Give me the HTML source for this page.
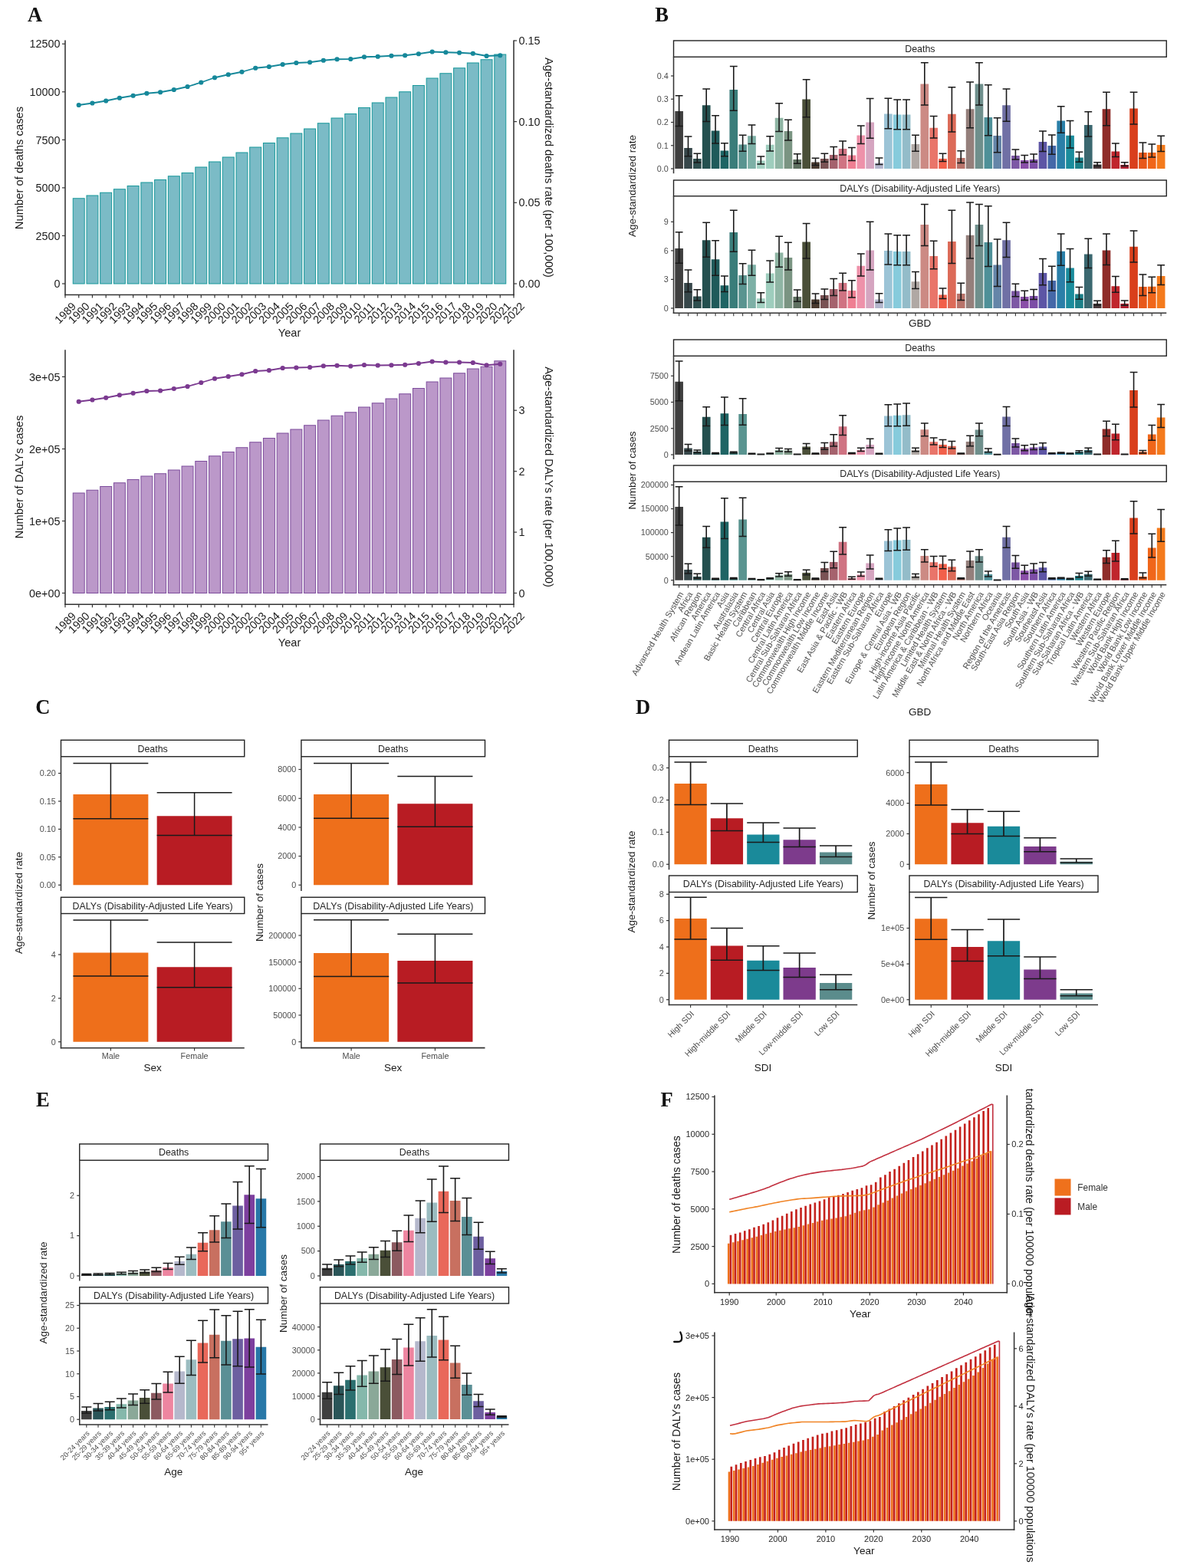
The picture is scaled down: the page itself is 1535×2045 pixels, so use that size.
<!DOCTYPE html>
<html lang="en"><head><meta charset="utf-8"><title>Figure</title>
<style>
html,body{margin:0;padding:0;background:#fff;width:1535px;height:2045px;overflow:hidden;}
svg{display:block;font-family:"Liberation Sans",sans-serif;}
</style></head><body>
<svg width="1535" height="2045" viewBox="0 0 1535 2045">
<rect width="1535" height="2045" fill="#ffffff"/>
<rect x="95.25" y="258.75" width="14.95" height="111.25" fill="#7bbbc6" stroke="#17989a" stroke-width="1"/>
<rect x="112.98" y="255" width="14.95" height="115" fill="#7bbbc6" stroke="#17989a" stroke-width="1"/>
<rect x="130.7" y="251.25" width="14.95" height="118.75" fill="#7bbbc6" stroke="#17989a" stroke-width="1"/>
<rect x="148.43" y="246.75" width="14.95" height="123.25" fill="#7bbbc6" stroke="#17989a" stroke-width="1"/>
<rect x="166.16" y="242.5" width="14.95" height="127.5" fill="#7bbbc6" stroke="#17989a" stroke-width="1"/>
<rect x="183.89" y="238" width="14.95" height="132" fill="#7bbbc6" stroke="#17989a" stroke-width="1"/>
<rect x="201.61" y="234.5" width="14.95" height="135.5" fill="#7bbbc6" stroke="#17989a" stroke-width="1"/>
<rect x="219.34" y="229.75" width="14.95" height="140.25" fill="#7bbbc6" stroke="#17989a" stroke-width="1"/>
<rect x="237.07" y="225.5" width="14.95" height="144.5" fill="#7bbbc6" stroke="#17989a" stroke-width="1"/>
<rect x="254.8" y="218" width="14.95" height="152" fill="#7bbbc6" stroke="#17989a" stroke-width="1"/>
<rect x="272.52" y="211" width="14.95" height="159" fill="#7bbbc6" stroke="#17989a" stroke-width="1"/>
<rect x="290.25" y="205" width="14.95" height="165" fill="#7bbbc6" stroke="#17989a" stroke-width="1"/>
<rect x="307.98" y="199" width="14.95" height="171" fill="#7bbbc6" stroke="#17989a" stroke-width="1"/>
<rect x="325.7" y="192" width="14.95" height="178" fill="#7bbbc6" stroke="#17989a" stroke-width="1"/>
<rect x="343.43" y="186.5" width="14.95" height="183.5" fill="#7bbbc6" stroke="#17989a" stroke-width="1"/>
<rect x="361.16" y="179.75" width="14.95" height="190.25" fill="#7bbbc6" stroke="#17989a" stroke-width="1"/>
<rect x="378.89" y="174" width="14.95" height="196" fill="#7bbbc6" stroke="#17989a" stroke-width="1"/>
<rect x="396.61" y="168" width="14.95" height="202" fill="#7bbbc6" stroke="#17989a" stroke-width="1"/>
<rect x="414.34" y="160.75" width="14.95" height="209.25" fill="#7bbbc6" stroke="#17989a" stroke-width="1"/>
<rect x="432.07" y="154" width="14.95" height="216" fill="#7bbbc6" stroke="#17989a" stroke-width="1"/>
<rect x="449.8" y="148.5" width="14.95" height="221.5" fill="#7bbbc6" stroke="#17989a" stroke-width="1"/>
<rect x="467.52" y="140.5" width="14.95" height="229.5" fill="#7bbbc6" stroke="#17989a" stroke-width="1"/>
<rect x="485.25" y="134" width="14.95" height="236" fill="#7bbbc6" stroke="#17989a" stroke-width="1"/>
<rect x="502.98" y="127" width="14.95" height="243" fill="#7bbbc6" stroke="#17989a" stroke-width="1"/>
<rect x="520.7" y="119.75" width="14.95" height="250.25" fill="#7bbbc6" stroke="#17989a" stroke-width="1"/>
<rect x="538.43" y="111.5" width="14.95" height="258.5" fill="#7bbbc6" stroke="#17989a" stroke-width="1"/>
<rect x="556.16" y="102" width="14.95" height="268" fill="#7bbbc6" stroke="#17989a" stroke-width="1"/>
<rect x="573.89" y="95.75" width="14.95" height="274.25" fill="#7bbbc6" stroke="#17989a" stroke-width="1"/>
<rect x="591.61" y="88.75" width="14.95" height="281.25" fill="#7bbbc6" stroke="#17989a" stroke-width="1"/>
<rect x="609.34" y="82" width="14.95" height="288" fill="#7bbbc6" stroke="#17989a" stroke-width="1"/>
<rect x="627.07" y="77.75" width="14.95" height="292.25" fill="#7bbbc6" stroke="#17989a" stroke-width="1"/>
<rect x="644.8" y="71" width="14.95" height="299" fill="#7bbbc6" stroke="#17989a" stroke-width="1"/>
<polyline points="102.73,137 120.45,134.5 138.18,131.5 155.91,127.75 173.64,124.75 191.36,121.75 209.09,120.25 226.82,117 244.55,113 262.27,107.5 280,101.25 297.73,97.25 315.45,93.75 333.18,88.75 350.91,87 368.64,84 386.36,82 404.09,81.25 421.82,78.75 439.55,77.25 457.27,77 475,74.25 492.73,73.75 510.45,72.75 528.18,72.25 545.91,70.25 563.64,67.5 581.36,68.25 599.09,68.75 616.82,69.75 634.55,73 652.27,72.25" fill="none" stroke="#16889a" stroke-width="1.8" stroke-linejoin="round"/>
<circle cx="102.73" cy="137" r="3.1" fill="#16889a"/>
<circle cx="120.45" cy="134.5" r="3.1" fill="#16889a"/>
<circle cx="138.18" cy="131.5" r="3.1" fill="#16889a"/>
<circle cx="155.91" cy="127.75" r="3.1" fill="#16889a"/>
<circle cx="173.64" cy="124.75" r="3.1" fill="#16889a"/>
<circle cx="191.36" cy="121.75" r="3.1" fill="#16889a"/>
<circle cx="209.09" cy="120.25" r="3.1" fill="#16889a"/>
<circle cx="226.82" cy="117" r="3.1" fill="#16889a"/>
<circle cx="244.55" cy="113" r="3.1" fill="#16889a"/>
<circle cx="262.27" cy="107.5" r="3.1" fill="#16889a"/>
<circle cx="280" cy="101.25" r="3.1" fill="#16889a"/>
<circle cx="297.73" cy="97.25" r="3.1" fill="#16889a"/>
<circle cx="315.45" cy="93.75" r="3.1" fill="#16889a"/>
<circle cx="333.18" cy="88.75" r="3.1" fill="#16889a"/>
<circle cx="350.91" cy="87" r="3.1" fill="#16889a"/>
<circle cx="368.64" cy="84" r="3.1" fill="#16889a"/>
<circle cx="386.36" cy="82" r="3.1" fill="#16889a"/>
<circle cx="404.09" cy="81.25" r="3.1" fill="#16889a"/>
<circle cx="421.82" cy="78.75" r="3.1" fill="#16889a"/>
<circle cx="439.55" cy="77.25" r="3.1" fill="#16889a"/>
<circle cx="457.27" cy="77" r="3.1" fill="#16889a"/>
<circle cx="475" cy="74.25" r="3.1" fill="#16889a"/>
<circle cx="492.73" cy="73.75" r="3.1" fill="#16889a"/>
<circle cx="510.45" cy="72.75" r="3.1" fill="#16889a"/>
<circle cx="528.18" cy="72.25" r="3.1" fill="#16889a"/>
<circle cx="545.91" cy="70.25" r="3.1" fill="#16889a"/>
<circle cx="563.64" cy="67.5" r="3.1" fill="#16889a"/>
<circle cx="581.36" cy="68.25" r="3.1" fill="#16889a"/>
<circle cx="599.09" cy="68.75" r="3.1" fill="#16889a"/>
<circle cx="616.82" cy="69.75" r="3.1" fill="#16889a"/>
<circle cx="634.55" cy="73" r="3.1" fill="#16889a"/>
<circle cx="652.27" cy="72.25" r="3.1" fill="#16889a"/>
<line x1="85" y1="52.5" x2="85" y2="385.2" stroke="#333333" stroke-width="1.55"/>
<line x1="84.3" y1="384.5" x2="670.7" y2="384.5" stroke="#333333" stroke-width="1.55"/>
<line x1="670" y1="52.5" x2="670" y2="385.2" stroke="#333333" stroke-width="1.55"/>
<line x1="81" y1="370" x2="85" y2="370" stroke="#333333" stroke-width="1.2"/>
<text x="78.5" y="375.16" text-anchor="end" font-size="14.4" fill="#1a1a1a">0</text>
<line x1="81" y1="307.45" x2="85" y2="307.45" stroke="#333333" stroke-width="1.2"/>
<text x="78.5" y="312.61" text-anchor="end" font-size="14.4" fill="#1a1a1a">2500</text>
<line x1="81" y1="244.9" x2="85" y2="244.9" stroke="#333333" stroke-width="1.2"/>
<text x="78.5" y="250.06" text-anchor="end" font-size="14.4" fill="#1a1a1a">5000</text>
<line x1="81" y1="182.35" x2="85" y2="182.35" stroke="#333333" stroke-width="1.2"/>
<text x="78.5" y="187.51" text-anchor="end" font-size="14.4" fill="#1a1a1a">7500</text>
<line x1="81" y1="119.8" x2="85" y2="119.8" stroke="#333333" stroke-width="1.2"/>
<text x="78.5" y="124.96" text-anchor="end" font-size="14.4" fill="#1a1a1a">10000</text>
<line x1="81" y1="57.25" x2="85" y2="57.25" stroke="#333333" stroke-width="1.2"/>
<text x="78.5" y="62.41" text-anchor="end" font-size="14.4" fill="#1a1a1a">12500</text>
<line x1="670" y1="370" x2="674" y2="370" stroke="#333333" stroke-width="1.2"/>
<text x="676.5" y="375.16" font-size="14.4" fill="#1a1a1a">0.00</text>
<line x1="670" y1="264.3" x2="674" y2="264.3" stroke="#333333" stroke-width="1.2"/>
<text x="676.5" y="269.46" font-size="14.4" fill="#1a1a1a">0.05</text>
<line x1="670" y1="158.6" x2="674" y2="158.6" stroke="#333333" stroke-width="1.2"/>
<text x="676.5" y="163.76" font-size="14.4" fill="#1a1a1a">0.10</text>
<line x1="670" y1="53" x2="674" y2="53" stroke="#333333" stroke-width="1.2"/>
<text x="676.5" y="58.16" font-size="14.4" fill="#1a1a1a">0.15</text>
<line x1="85" y1="384.5" x2="85" y2="388.5" stroke="#333333" stroke-width="1.2"/>
<text transform="translate(85 408) rotate(-45)" y="5.16" text-anchor="middle" font-size="14.4" fill="#1a1a1a">1989</text>
<line x1="102.73" y1="384.5" x2="102.73" y2="388.5" stroke="#333333" stroke-width="1.2"/>
<text transform="translate(102.73 408) rotate(-45)" y="5.16" text-anchor="middle" font-size="14.4" fill="#1a1a1a">1990</text>
<line x1="120.45" y1="384.5" x2="120.45" y2="388.5" stroke="#333333" stroke-width="1.2"/>
<text transform="translate(120.45 408) rotate(-45)" y="5.16" text-anchor="middle" font-size="14.4" fill="#1a1a1a">1991</text>
<line x1="138.18" y1="384.5" x2="138.18" y2="388.5" stroke="#333333" stroke-width="1.2"/>
<text transform="translate(138.18 408) rotate(-45)" y="5.16" text-anchor="middle" font-size="14.4" fill="#1a1a1a">1992</text>
<line x1="155.91" y1="384.5" x2="155.91" y2="388.5" stroke="#333333" stroke-width="1.2"/>
<text transform="translate(155.91 408) rotate(-45)" y="5.16" text-anchor="middle" font-size="14.4" fill="#1a1a1a">1993</text>
<line x1="173.64" y1="384.5" x2="173.64" y2="388.5" stroke="#333333" stroke-width="1.2"/>
<text transform="translate(173.64 408) rotate(-45)" y="5.16" text-anchor="middle" font-size="14.4" fill="#1a1a1a">1994</text>
<line x1="191.36" y1="384.5" x2="191.36" y2="388.5" stroke="#333333" stroke-width="1.2"/>
<text transform="translate(191.36 408) rotate(-45)" y="5.16" text-anchor="middle" font-size="14.4" fill="#1a1a1a">1995</text>
<line x1="209.09" y1="384.5" x2="209.09" y2="388.5" stroke="#333333" stroke-width="1.2"/>
<text transform="translate(209.09 408) rotate(-45)" y="5.16" text-anchor="middle" font-size="14.4" fill="#1a1a1a">1996</text>
<line x1="226.82" y1="384.5" x2="226.82" y2="388.5" stroke="#333333" stroke-width="1.2"/>
<text transform="translate(226.82 408) rotate(-45)" y="5.16" text-anchor="middle" font-size="14.4" fill="#1a1a1a">1997</text>
<line x1="244.55" y1="384.5" x2="244.55" y2="388.5" stroke="#333333" stroke-width="1.2"/>
<text transform="translate(244.55 408) rotate(-45)" y="5.16" text-anchor="middle" font-size="14.4" fill="#1a1a1a">1998</text>
<line x1="262.27" y1="384.5" x2="262.27" y2="388.5" stroke="#333333" stroke-width="1.2"/>
<text transform="translate(262.27 408) rotate(-45)" y="5.16" text-anchor="middle" font-size="14.4" fill="#1a1a1a">1999</text>
<line x1="280" y1="384.5" x2="280" y2="388.5" stroke="#333333" stroke-width="1.2"/>
<text transform="translate(280 408) rotate(-45)" y="5.16" text-anchor="middle" font-size="14.4" fill="#1a1a1a">2000</text>
<line x1="297.73" y1="384.5" x2="297.73" y2="388.5" stroke="#333333" stroke-width="1.2"/>
<text transform="translate(297.73 408) rotate(-45)" y="5.16" text-anchor="middle" font-size="14.4" fill="#1a1a1a">2001</text>
<line x1="315.45" y1="384.5" x2="315.45" y2="388.5" stroke="#333333" stroke-width="1.2"/>
<text transform="translate(315.45 408) rotate(-45)" y="5.16" text-anchor="middle" font-size="14.4" fill="#1a1a1a">2002</text>
<line x1="333.18" y1="384.5" x2="333.18" y2="388.5" stroke="#333333" stroke-width="1.2"/>
<text transform="translate(333.18 408) rotate(-45)" y="5.16" text-anchor="middle" font-size="14.4" fill="#1a1a1a">2003</text>
<line x1="350.91" y1="384.5" x2="350.91" y2="388.5" stroke="#333333" stroke-width="1.2"/>
<text transform="translate(350.91 408) rotate(-45)" y="5.16" text-anchor="middle" font-size="14.4" fill="#1a1a1a">2004</text>
<line x1="368.64" y1="384.5" x2="368.64" y2="388.5" stroke="#333333" stroke-width="1.2"/>
<text transform="translate(368.64 408) rotate(-45)" y="5.16" text-anchor="middle" font-size="14.4" fill="#1a1a1a">2005</text>
<line x1="386.36" y1="384.5" x2="386.36" y2="388.5" stroke="#333333" stroke-width="1.2"/>
<text transform="translate(386.36 408) rotate(-45)" y="5.16" text-anchor="middle" font-size="14.4" fill="#1a1a1a">2006</text>
<line x1="404.09" y1="384.5" x2="404.09" y2="388.5" stroke="#333333" stroke-width="1.2"/>
<text transform="translate(404.09 408) rotate(-45)" y="5.16" text-anchor="middle" font-size="14.4" fill="#1a1a1a">2007</text>
<line x1="421.82" y1="384.5" x2="421.82" y2="388.5" stroke="#333333" stroke-width="1.2"/>
<text transform="translate(421.82 408) rotate(-45)" y="5.16" text-anchor="middle" font-size="14.4" fill="#1a1a1a">2008</text>
<line x1="439.55" y1="384.5" x2="439.55" y2="388.5" stroke="#333333" stroke-width="1.2"/>
<text transform="translate(439.55 408) rotate(-45)" y="5.16" text-anchor="middle" font-size="14.4" fill="#1a1a1a">2009</text>
<line x1="457.27" y1="384.5" x2="457.27" y2="388.5" stroke="#333333" stroke-width="1.2"/>
<text transform="translate(457.27 408) rotate(-45)" y="5.16" text-anchor="middle" font-size="14.4" fill="#1a1a1a">2010</text>
<line x1="475" y1="384.5" x2="475" y2="388.5" stroke="#333333" stroke-width="1.2"/>
<text transform="translate(475 408) rotate(-45)" y="5.16" text-anchor="middle" font-size="14.4" fill="#1a1a1a">2011</text>
<line x1="492.73" y1="384.5" x2="492.73" y2="388.5" stroke="#333333" stroke-width="1.2"/>
<text transform="translate(492.73 408) rotate(-45)" y="5.16" text-anchor="middle" font-size="14.4" fill="#1a1a1a">2012</text>
<line x1="510.45" y1="384.5" x2="510.45" y2="388.5" stroke="#333333" stroke-width="1.2"/>
<text transform="translate(510.45 408) rotate(-45)" y="5.16" text-anchor="middle" font-size="14.4" fill="#1a1a1a">2013</text>
<line x1="528.18" y1="384.5" x2="528.18" y2="388.5" stroke="#333333" stroke-width="1.2"/>
<text transform="translate(528.18 408) rotate(-45)" y="5.16" text-anchor="middle" font-size="14.4" fill="#1a1a1a">2014</text>
<line x1="545.91" y1="384.5" x2="545.91" y2="388.5" stroke="#333333" stroke-width="1.2"/>
<text transform="translate(545.91 408) rotate(-45)" y="5.16" text-anchor="middle" font-size="14.4" fill="#1a1a1a">2015</text>
<line x1="563.64" y1="384.5" x2="563.64" y2="388.5" stroke="#333333" stroke-width="1.2"/>
<text transform="translate(563.64 408) rotate(-45)" y="5.16" text-anchor="middle" font-size="14.4" fill="#1a1a1a">2016</text>
<line x1="581.36" y1="384.5" x2="581.36" y2="388.5" stroke="#333333" stroke-width="1.2"/>
<text transform="translate(581.36 408) rotate(-45)" y="5.16" text-anchor="middle" font-size="14.4" fill="#1a1a1a">2017</text>
<line x1="599.09" y1="384.5" x2="599.09" y2="388.5" stroke="#333333" stroke-width="1.2"/>
<text transform="translate(599.09 408) rotate(-45)" y="5.16" text-anchor="middle" font-size="14.4" fill="#1a1a1a">2018</text>
<line x1="616.82" y1="384.5" x2="616.82" y2="388.5" stroke="#333333" stroke-width="1.2"/>
<text transform="translate(616.82 408) rotate(-45)" y="5.16" text-anchor="middle" font-size="14.4" fill="#1a1a1a">2019</text>
<line x1="634.55" y1="384.5" x2="634.55" y2="388.5" stroke="#333333" stroke-width="1.2"/>
<text transform="translate(634.55 408) rotate(-45)" y="5.16" text-anchor="middle" font-size="14.4" fill="#1a1a1a">2020</text>
<line x1="652.27" y1="384.5" x2="652.27" y2="388.5" stroke="#333333" stroke-width="1.2"/>
<text transform="translate(652.27 408) rotate(-45)" y="5.16" text-anchor="middle" font-size="14.4" fill="#1a1a1a">2021</text>
<line x1="670" y1="384.5" x2="670" y2="388.5" stroke="#333333" stroke-width="1.2"/>
<text transform="translate(670 408) rotate(-45)" y="5.16" text-anchor="middle" font-size="14.4" fill="#1a1a1a">2022</text>
<text x="377.5" y="439.23" text-anchor="middle" font-size="14.6" fill="#1a1a1a">Year</text>
<text transform="translate(24.6 219) rotate(-90)" y="5.3" text-anchor="middle" font-size="14.8" fill="#1a1a1a">Number of deaths cases</text>
<text transform="translate(716.5 218.5) rotate(90)" y="5.3" text-anchor="middle" font-size="14.8" fill="#1a1a1a">Age-standardized deaths rate (per 100,000)</text>
<rect x="95.25" y="643" width="14.95" height="130.5" fill="#bb98c9" stroke="#7d4c9c" stroke-width="1"/>
<rect x="112.98" y="639.25" width="14.95" height="134.25" fill="#bb98c9" stroke="#7d4c9c" stroke-width="1"/>
<rect x="130.7" y="634.5" width="14.95" height="139" fill="#bb98c9" stroke="#7d4c9c" stroke-width="1"/>
<rect x="148.43" y="629.75" width="14.95" height="143.75" fill="#bb98c9" stroke="#7d4c9c" stroke-width="1"/>
<rect x="166.16" y="625.5" width="14.95" height="148" fill="#bb98c9" stroke="#7d4c9c" stroke-width="1"/>
<rect x="183.89" y="621" width="14.95" height="152.5" fill="#bb98c9" stroke="#7d4c9c" stroke-width="1"/>
<rect x="201.61" y="617.75" width="14.95" height="155.75" fill="#bb98c9" stroke="#7d4c9c" stroke-width="1"/>
<rect x="219.34" y="613" width="14.95" height="160.5" fill="#bb98c9" stroke="#7d4c9c" stroke-width="1"/>
<rect x="237.07" y="608" width="14.95" height="165.5" fill="#bb98c9" stroke="#7d4c9c" stroke-width="1"/>
<rect x="254.8" y="601.5" width="14.95" height="172" fill="#bb98c9" stroke="#7d4c9c" stroke-width="1"/>
<rect x="272.52" y="594.75" width="14.95" height="178.75" fill="#bb98c9" stroke="#7d4c9c" stroke-width="1"/>
<rect x="290.25" y="589.5" width="14.95" height="184" fill="#bb98c9" stroke="#7d4c9c" stroke-width="1"/>
<rect x="307.98" y="583.75" width="14.95" height="189.75" fill="#bb98c9" stroke="#7d4c9c" stroke-width="1"/>
<rect x="325.7" y="576.75" width="14.95" height="196.75" fill="#bb98c9" stroke="#7d4c9c" stroke-width="1"/>
<rect x="343.43" y="571.5" width="14.95" height="202" fill="#bb98c9" stroke="#7d4c9c" stroke-width="1"/>
<rect x="361.16" y="565" width="14.95" height="208.5" fill="#bb98c9" stroke="#7d4c9c" stroke-width="1"/>
<rect x="378.89" y="560" width="14.95" height="213.5" fill="#bb98c9" stroke="#7d4c9c" stroke-width="1"/>
<rect x="396.61" y="554.75" width="14.95" height="218.75" fill="#bb98c9" stroke="#7d4c9c" stroke-width="1"/>
<rect x="414.34" y="548" width="14.95" height="225.5" fill="#bb98c9" stroke="#7d4c9c" stroke-width="1"/>
<rect x="432.07" y="542.25" width="14.95" height="231.25" fill="#bb98c9" stroke="#7d4c9c" stroke-width="1"/>
<rect x="449.8" y="537.75" width="14.95" height="235.75" fill="#bb98c9" stroke="#7d4c9c" stroke-width="1"/>
<rect x="467.52" y="531" width="14.95" height="242.5" fill="#bb98c9" stroke="#7d4c9c" stroke-width="1"/>
<rect x="485.25" y="525.75" width="14.95" height="247.75" fill="#bb98c9" stroke="#7d4c9c" stroke-width="1"/>
<rect x="502.98" y="520" width="14.95" height="253.5" fill="#bb98c9" stroke="#7d4c9c" stroke-width="1"/>
<rect x="520.7" y="513.75" width="14.95" height="259.75" fill="#bb98c9" stroke="#7d4c9c" stroke-width="1"/>
<rect x="538.43" y="506.5" width="14.95" height="267" fill="#bb98c9" stroke="#7d4c9c" stroke-width="1"/>
<rect x="556.16" y="498" width="14.95" height="275.5" fill="#bb98c9" stroke="#7d4c9c" stroke-width="1"/>
<rect x="573.89" y="493" width="14.95" height="280.5" fill="#bb98c9" stroke="#7d4c9c" stroke-width="1"/>
<rect x="591.61" y="486.75" width="14.95" height="286.75" fill="#bb98c9" stroke="#7d4c9c" stroke-width="1"/>
<rect x="609.34" y="481" width="14.95" height="292.5" fill="#bb98c9" stroke="#7d4c9c" stroke-width="1"/>
<rect x="627.07" y="478.25" width="14.95" height="295.25" fill="#bb98c9" stroke="#7d4c9c" stroke-width="1"/>
<rect x="644.8" y="470.75" width="14.95" height="302.75" fill="#bb98c9" stroke="#7d4c9c" stroke-width="1"/>
<polyline points="102.73,523.75 120.45,521.5 138.18,518.75 155.91,515.25 173.64,512.75 191.36,510 209.09,509.5 226.82,507 244.55,504 262.27,499 280,493.75 297.73,491 315.45,488.25 333.18,484 350.91,483 368.64,480 386.36,479.5 404.09,479 421.82,477.25 439.55,476.75 457.27,477.5 475,476 492.73,476.5 510.45,476.25 528.18,475.75 545.91,474 563.64,471.5 581.36,472.5 599.09,472.5 616.82,473 634.55,476.25 652.27,474.75" fill="none" stroke="#7b3a90" stroke-width="1.8" stroke-linejoin="round"/>
<circle cx="102.73" cy="523.75" r="3.1" fill="#7b3a90"/>
<circle cx="120.45" cy="521.5" r="3.1" fill="#7b3a90"/>
<circle cx="138.18" cy="518.75" r="3.1" fill="#7b3a90"/>
<circle cx="155.91" cy="515.25" r="3.1" fill="#7b3a90"/>
<circle cx="173.64" cy="512.75" r="3.1" fill="#7b3a90"/>
<circle cx="191.36" cy="510" r="3.1" fill="#7b3a90"/>
<circle cx="209.09" cy="509.5" r="3.1" fill="#7b3a90"/>
<circle cx="226.82" cy="507" r="3.1" fill="#7b3a90"/>
<circle cx="244.55" cy="504" r="3.1" fill="#7b3a90"/>
<circle cx="262.27" cy="499" r="3.1" fill="#7b3a90"/>
<circle cx="280" cy="493.75" r="3.1" fill="#7b3a90"/>
<circle cx="297.73" cy="491" r="3.1" fill="#7b3a90"/>
<circle cx="315.45" cy="488.25" r="3.1" fill="#7b3a90"/>
<circle cx="333.18" cy="484" r="3.1" fill="#7b3a90"/>
<circle cx="350.91" cy="483" r="3.1" fill="#7b3a90"/>
<circle cx="368.64" cy="480" r="3.1" fill="#7b3a90"/>
<circle cx="386.36" cy="479.5" r="3.1" fill="#7b3a90"/>
<circle cx="404.09" cy="479" r="3.1" fill="#7b3a90"/>
<circle cx="421.82" cy="477.25" r="3.1" fill="#7b3a90"/>
<circle cx="439.55" cy="476.75" r="3.1" fill="#7b3a90"/>
<circle cx="457.27" cy="477.5" r="3.1" fill="#7b3a90"/>
<circle cx="475" cy="476" r="3.1" fill="#7b3a90"/>
<circle cx="492.73" cy="476.5" r="3.1" fill="#7b3a90"/>
<circle cx="510.45" cy="476.25" r="3.1" fill="#7b3a90"/>
<circle cx="528.18" cy="475.75" r="3.1" fill="#7b3a90"/>
<circle cx="545.91" cy="474" r="3.1" fill="#7b3a90"/>
<circle cx="563.64" cy="471.5" r="3.1" fill="#7b3a90"/>
<circle cx="581.36" cy="472.5" r="3.1" fill="#7b3a90"/>
<circle cx="599.09" cy="472.5" r="3.1" fill="#7b3a90"/>
<circle cx="616.82" cy="473" r="3.1" fill="#7b3a90"/>
<circle cx="634.55" cy="476.25" r="3.1" fill="#7b3a90"/>
<circle cx="652.27" cy="474.75" r="3.1" fill="#7b3a90"/>
<line x1="85" y1="456.25" x2="85" y2="788.95" stroke="#333333" stroke-width="1.55"/>
<line x1="84.3" y1="788.25" x2="670.7" y2="788.25" stroke="#333333" stroke-width="1.55"/>
<line x1="670" y1="456.25" x2="670" y2="788.95" stroke="#333333" stroke-width="1.55"/>
<line x1="81" y1="773.5" x2="85" y2="773.5" stroke="#333333" stroke-width="1.2"/>
<text x="78.5" y="778.66" text-anchor="end" font-size="14.4" fill="#1a1a1a">0e+00</text>
<line x1="81" y1="679.5" x2="85" y2="679.5" stroke="#333333" stroke-width="1.2"/>
<text x="78.5" y="684.66" text-anchor="end" font-size="14.4" fill="#1a1a1a">1e+05</text>
<line x1="81" y1="585.5" x2="85" y2="585.5" stroke="#333333" stroke-width="1.2"/>
<text x="78.5" y="590.66" text-anchor="end" font-size="14.4" fill="#1a1a1a">2e+05</text>
<line x1="81" y1="491.4" x2="85" y2="491.4" stroke="#333333" stroke-width="1.2"/>
<text x="78.5" y="496.56" text-anchor="end" font-size="14.4" fill="#1a1a1a">3e+05</text>
<line x1="670" y1="773.5" x2="674" y2="773.5" stroke="#333333" stroke-width="1.2"/>
<text x="676.5" y="778.66" font-size="14.4" fill="#1a1a1a">0</text>
<line x1="670" y1="694.1" x2="674" y2="694.1" stroke="#333333" stroke-width="1.2"/>
<text x="676.5" y="699.26" font-size="14.4" fill="#1a1a1a">1</text>
<line x1="670" y1="614.7" x2="674" y2="614.7" stroke="#333333" stroke-width="1.2"/>
<text x="676.5" y="619.86" font-size="14.4" fill="#1a1a1a">2</text>
<line x1="670" y1="535.2" x2="674" y2="535.2" stroke="#333333" stroke-width="1.2"/>
<text x="676.5" y="540.36" font-size="14.4" fill="#1a1a1a">3</text>
<line x1="85" y1="788.25" x2="85" y2="792.25" stroke="#333333" stroke-width="1.2"/>
<text transform="translate(85 812) rotate(-45)" y="5.16" text-anchor="middle" font-size="14.4" fill="#1a1a1a">1989</text>
<line x1="102.73" y1="788.25" x2="102.73" y2="792.25" stroke="#333333" stroke-width="1.2"/>
<text transform="translate(102.73 812) rotate(-45)" y="5.16" text-anchor="middle" font-size="14.4" fill="#1a1a1a">1990</text>
<line x1="120.45" y1="788.25" x2="120.45" y2="792.25" stroke="#333333" stroke-width="1.2"/>
<text transform="translate(120.45 812) rotate(-45)" y="5.16" text-anchor="middle" font-size="14.4" fill="#1a1a1a">1991</text>
<line x1="138.18" y1="788.25" x2="138.18" y2="792.25" stroke="#333333" stroke-width="1.2"/>
<text transform="translate(138.18 812) rotate(-45)" y="5.16" text-anchor="middle" font-size="14.4" fill="#1a1a1a">1992</text>
<line x1="155.91" y1="788.25" x2="155.91" y2="792.25" stroke="#333333" stroke-width="1.2"/>
<text transform="translate(155.91 812) rotate(-45)" y="5.16" text-anchor="middle" font-size="14.4" fill="#1a1a1a">1993</text>
<line x1="173.64" y1="788.25" x2="173.64" y2="792.25" stroke="#333333" stroke-width="1.2"/>
<text transform="translate(173.64 812) rotate(-45)" y="5.16" text-anchor="middle" font-size="14.4" fill="#1a1a1a">1994</text>
<line x1="191.36" y1="788.25" x2="191.36" y2="792.25" stroke="#333333" stroke-width="1.2"/>
<text transform="translate(191.36 812) rotate(-45)" y="5.16" text-anchor="middle" font-size="14.4" fill="#1a1a1a">1995</text>
<line x1="209.09" y1="788.25" x2="209.09" y2="792.25" stroke="#333333" stroke-width="1.2"/>
<text transform="translate(209.09 812) rotate(-45)" y="5.16" text-anchor="middle" font-size="14.4" fill="#1a1a1a">1996</text>
<line x1="226.82" y1="788.25" x2="226.82" y2="792.25" stroke="#333333" stroke-width="1.2"/>
<text transform="translate(226.82 812) rotate(-45)" y="5.16" text-anchor="middle" font-size="14.4" fill="#1a1a1a">1997</text>
<line x1="244.55" y1="788.25" x2="244.55" y2="792.25" stroke="#333333" stroke-width="1.2"/>
<text transform="translate(244.55 812) rotate(-45)" y="5.16" text-anchor="middle" font-size="14.4" fill="#1a1a1a">1998</text>
<line x1="262.27" y1="788.25" x2="262.27" y2="792.25" stroke="#333333" stroke-width="1.2"/>
<text transform="translate(262.27 812) rotate(-45)" y="5.16" text-anchor="middle" font-size="14.4" fill="#1a1a1a">1999</text>
<line x1="280" y1="788.25" x2="280" y2="792.25" stroke="#333333" stroke-width="1.2"/>
<text transform="translate(280 812) rotate(-45)" y="5.16" text-anchor="middle" font-size="14.4" fill="#1a1a1a">2000</text>
<line x1="297.73" y1="788.25" x2="297.73" y2="792.25" stroke="#333333" stroke-width="1.2"/>
<text transform="translate(297.73 812) rotate(-45)" y="5.16" text-anchor="middle" font-size="14.4" fill="#1a1a1a">2001</text>
<line x1="315.45" y1="788.25" x2="315.45" y2="792.25" stroke="#333333" stroke-width="1.2"/>
<text transform="translate(315.45 812) rotate(-45)" y="5.16" text-anchor="middle" font-size="14.4" fill="#1a1a1a">2002</text>
<line x1="333.18" y1="788.25" x2="333.18" y2="792.25" stroke="#333333" stroke-width="1.2"/>
<text transform="translate(333.18 812) rotate(-45)" y="5.16" text-anchor="middle" font-size="14.4" fill="#1a1a1a">2003</text>
<line x1="350.91" y1="788.25" x2="350.91" y2="792.25" stroke="#333333" stroke-width="1.2"/>
<text transform="translate(350.91 812) rotate(-45)" y="5.16" text-anchor="middle" font-size="14.4" fill="#1a1a1a">2004</text>
<line x1="368.64" y1="788.25" x2="368.64" y2="792.25" stroke="#333333" stroke-width="1.2"/>
<text transform="translate(368.64 812) rotate(-45)" y="5.16" text-anchor="middle" font-size="14.4" fill="#1a1a1a">2005</text>
<line x1="386.36" y1="788.25" x2="386.36" y2="792.25" stroke="#333333" stroke-width="1.2"/>
<text transform="translate(386.36 812) rotate(-45)" y="5.16" text-anchor="middle" font-size="14.4" fill="#1a1a1a">2006</text>
<line x1="404.09" y1="788.25" x2="404.09" y2="792.25" stroke="#333333" stroke-width="1.2"/>
<text transform="translate(404.09 812) rotate(-45)" y="5.16" text-anchor="middle" font-size="14.4" fill="#1a1a1a">2007</text>
<line x1="421.82" y1="788.25" x2="421.82" y2="792.25" stroke="#333333" stroke-width="1.2"/>
<text transform="translate(421.82 812) rotate(-45)" y="5.16" text-anchor="middle" font-size="14.4" fill="#1a1a1a">2008</text>
<line x1="439.55" y1="788.25" x2="439.55" y2="792.25" stroke="#333333" stroke-width="1.2"/>
<text transform="translate(439.55 812) rotate(-45)" y="5.16" text-anchor="middle" font-size="14.4" fill="#1a1a1a">2009</text>
<line x1="457.27" y1="788.25" x2="457.27" y2="792.25" stroke="#333333" stroke-width="1.2"/>
<text transform="translate(457.27 812) rotate(-45)" y="5.16" text-anchor="middle" font-size="14.4" fill="#1a1a1a">2010</text>
<line x1="475" y1="788.25" x2="475" y2="792.25" stroke="#333333" stroke-width="1.2"/>
<text transform="translate(475 812) rotate(-45)" y="5.16" text-anchor="middle" font-size="14.4" fill="#1a1a1a">2011</text>
<line x1="492.73" y1="788.25" x2="492.73" y2="792.25" stroke="#333333" stroke-width="1.2"/>
<text transform="translate(492.73 812) rotate(-45)" y="5.16" text-anchor="middle" font-size="14.4" fill="#1a1a1a">2012</text>
<line x1="510.45" y1="788.25" x2="510.45" y2="792.25" stroke="#333333" stroke-width="1.2"/>
<text transform="translate(510.45 812) rotate(-45)" y="5.16" text-anchor="middle" font-size="14.4" fill="#1a1a1a">2013</text>
<line x1="528.18" y1="788.25" x2="528.18" y2="792.25" stroke="#333333" stroke-width="1.2"/>
<text transform="translate(528.18 812) rotate(-45)" y="5.16" text-anchor="middle" font-size="14.4" fill="#1a1a1a">2014</text>
<line x1="545.91" y1="788.25" x2="545.91" y2="792.25" stroke="#333333" stroke-width="1.2"/>
<text transform="translate(545.91 812) rotate(-45)" y="5.16" text-anchor="middle" font-size="14.4" fill="#1a1a1a">2015</text>
<line x1="563.64" y1="788.25" x2="563.64" y2="792.25" stroke="#333333" stroke-width="1.2"/>
<text transform="translate(563.64 812) rotate(-45)" y="5.16" text-anchor="middle" font-size="14.4" fill="#1a1a1a">2016</text>
<line x1="581.36" y1="788.25" x2="581.36" y2="792.25" stroke="#333333" stroke-width="1.2"/>
<text transform="translate(581.36 812) rotate(-45)" y="5.16" text-anchor="middle" font-size="14.4" fill="#1a1a1a">2017</text>
<line x1="599.09" y1="788.25" x2="599.09" y2="792.25" stroke="#333333" stroke-width="1.2"/>
<text transform="translate(599.09 812) rotate(-45)" y="5.16" text-anchor="middle" font-size="14.4" fill="#1a1a1a">2018</text>
<line x1="616.82" y1="788.25" x2="616.82" y2="792.25" stroke="#333333" stroke-width="1.2"/>
<text transform="translate(616.82 812) rotate(-45)" y="5.16" text-anchor="middle" font-size="14.4" fill="#1a1a1a">2019</text>
<line x1="634.55" y1="788.25" x2="634.55" y2="792.25" stroke="#333333" stroke-width="1.2"/>
<text transform="translate(634.55 812) rotate(-45)" y="5.16" text-anchor="middle" font-size="14.4" fill="#1a1a1a">2020</text>
<line x1="652.27" y1="788.25" x2="652.27" y2="792.25" stroke="#333333" stroke-width="1.2"/>
<text transform="translate(652.27 812) rotate(-45)" y="5.16" text-anchor="middle" font-size="14.4" fill="#1a1a1a">2021</text>
<line x1="670" y1="788.25" x2="670" y2="792.25" stroke="#333333" stroke-width="1.2"/>
<text transform="translate(670 812) rotate(-45)" y="5.16" text-anchor="middle" font-size="14.4" fill="#1a1a1a">2022</text>
<text x="377.5" y="842.73" text-anchor="middle" font-size="14.6" fill="#1a1a1a">Year</text>
<text transform="translate(24.6 622) rotate(-90)" y="5.3" text-anchor="middle" font-size="14.8" fill="#1a1a1a">Number of DALYs cases</text>
<text transform="translate(716.5 622) rotate(90)" y="5.3" text-anchor="middle" font-size="14.8" fill="#1a1a1a">Age-standardized DALYs rate (per 100,000)</text>
<text x="36" y="27.6" font-size="26.5" font-weight="bold" font-family="Liberation Serif, serif" fill="#111">A</text>
<rect x="878.5" y="53" width="642.75" height="21.25" fill="#ffffff" stroke="#222222" stroke-width="1.4"/>
<text x="1199.88" y="68.36" text-anchor="middle" font-size="12.4" fill="#262626">Deaths</text>
<rect x="880.28" y="145" width="10.67" height="75" fill="#3f3f3f"/>
<rect x="892.14" y="193" width="10.67" height="27" fill="#37474a"/>
<rect x="904" y="207" width="10.67" height="13" fill="#2f4f4f"/>
<rect x="915.86" y="137.25" width="10.67" height="82.75" fill="#24504f"/>
<rect x="927.71" y="170.5" width="10.67" height="49.5" fill="#1f5a5a"/>
<rect x="939.57" y="196.5" width="10.67" height="23.5" fill="#1e6464"/>
<rect x="951.43" y="117" width="10.67" height="103" fill="#3a7d7a"/>
<rect x="963.29" y="188.5" width="10.67" height="31.5" fill="#5a9490"/>
<rect x="975.15" y="177.25" width="10.67" height="42.75" fill="#7db0a6"/>
<rect x="987.01" y="209.5" width="10.67" height="10.5" fill="#a3d1c2"/>
<rect x="998.87" y="188.75" width="10.67" height="31.25" fill="#9ecdbd"/>
<rect x="1010.73" y="153.75" width="10.67" height="66.25" fill="#8fb5a4"/>
<rect x="1022.59" y="171" width="10.67" height="49" fill="#7a9482"/>
<rect x="1034.44" y="208" width="10.67" height="12" fill="#5d6f5f"/>
<rect x="1046.3" y="129.5" width="10.67" height="90.5" fill="#4a4f38"/>
<rect x="1058.16" y="211.5" width="10.67" height="8.5" fill="#4a3b30"/>
<rect x="1070.02" y="207" width="10.67" height="13" fill="#7a5254"/>
<rect x="1081.88" y="202" width="10.67" height="18" fill="#a5626d"/>
<rect x="1093.74" y="194" width="10.67" height="26" fill="#cf7382"/>
<rect x="1105.6" y="202.5" width="10.67" height="17.5" fill="#ef7f92"/>
<rect x="1117.46" y="176.5" width="10.67" height="43.5" fill="#ee92aa"/>
<rect x="1129.31" y="159.5" width="10.67" height="60.5" fill="#d5a5c0"/>
<rect x="1141.17" y="212.5" width="10.67" height="7.5" fill="#b3b5cc"/>
<rect x="1153.03" y="148.5" width="10.67" height="71.5" fill="#9cc4d6"/>
<rect x="1164.89" y="149.5" width="10.67" height="70.5" fill="#87cbdc"/>
<rect x="1176.75" y="149.5" width="10.67" height="70.5" fill="#93bcc9"/>
<rect x="1188.61" y="188" width="10.67" height="32" fill="#b0a8a4"/>
<rect x="1200.47" y="109.5" width="10.67" height="110.5" fill="#cc8a84"/>
<rect x="1212.33" y="166.75" width="10.67" height="53.25" fill="#e9756a"/>
<rect x="1224.19" y="207" width="10.67" height="13" fill="#f2604a"/>
<rect x="1236.04" y="148.75" width="10.67" height="71.25" fill="#dc6a58"/>
<rect x="1247.9" y="206" width="10.67" height="14" fill="#b8736a"/>
<rect x="1259.76" y="142.25" width="10.67" height="77.75" fill="#947f7b"/>
<rect x="1271.62" y="109.5" width="10.67" height="110.5" fill="#6f8f8c"/>
<rect x="1283.48" y="153" width="10.67" height="67" fill="#4e9098"/>
<rect x="1295.34" y="177" width="10.67" height="43" fill="#6585a8"/>
<rect x="1307.2" y="137.25" width="10.67" height="82.75" fill="#7070a5"/>
<rect x="1319.06" y="203" width="10.67" height="17" fill="#7d58a5"/>
<rect x="1330.92" y="209" width="10.67" height="11" fill="#8a4ea8"/>
<rect x="1342.77" y="208" width="10.67" height="12" fill="#7c4da6"/>
<rect x="1354.63" y="185" width="10.67" height="35" fill="#5d55a5"/>
<rect x="1366.49" y="190" width="10.67" height="30" fill="#4568a8"/>
<rect x="1378.35" y="157.5" width="10.67" height="62.5" fill="#2a7fa8"/>
<rect x="1390.21" y="176.75" width="10.67" height="43.25" fill="#1a8c9c"/>
<rect x="1402.07" y="205.5" width="10.67" height="14.5" fill="#1c8088"/>
<rect x="1413.93" y="163" width="10.67" height="57" fill="#3b6870"/>
<rect x="1425.79" y="214.5" width="10.67" height="5.5" fill="#4a3a3c"/>
<rect x="1437.65" y="142.25" width="10.67" height="77.75" fill="#8f2d2a"/>
<rect x="1449.5" y="197.5" width="10.67" height="22.5" fill="#c0252c"/>
<rect x="1461.36" y="215" width="10.67" height="5" fill="#b01f30"/>
<rect x="1473.22" y="141.5" width="10.67" height="78.5" fill="#d93f1c"/>
<rect x="1485.08" y="199" width="10.67" height="21" fill="#e8581a"/>
<rect x="1496.94" y="199" width="10.67" height="21" fill="#f0661a"/>
<rect x="1508.8" y="189" width="10.67" height="31" fill="#f47a1c"/>
<path d="M880.71 124.75H890.52M880.71 164.5H890.52M885.62 124.75V164.5M892.56 178H902.38M892.56 203.75H902.38M897.47 178V203.75M904.42 200.25H914.24M904.42 212H914.24M909.33 200.25V212M916.28 116H926.1M916.28 158.5H926.1M921.19 116V158.5M928.14 150.75H937.96M928.14 187H937.96M933.05 150.75V187M940 186.75H949.82M940 203.75H949.82M944.91 186.75V203.75M951.86 86.5H961.68M951.86 144.25H961.68M956.77 86.5V144.25M963.72 176.25H973.54M963.72 197.25H973.54M968.63 176.25V197.25M975.58 163H985.4M975.58 187.5H985.4M980.49 163V187.5M987.44 204H997.25M987.44 214H997.25M992.35 204V214M999.29 177.75H1009.11M999.29 197H1009.11M1004.2 177.75V197M1011.15 134.75H1020.97M1011.15 171.5H1020.97M1016.06 134.75V171.5M1023.01 156.25H1032.83M1023.01 183H1032.83M1027.92 156.25V183M1034.87 200.75H1044.69M1034.87 213.25H1044.69M1039.78 200.75V213.25M1046.73 103.75H1056.55M1046.73 152.75H1056.55M1051.64 103.75V152.75M1058.59 206.25H1068.41M1058.59 215.5H1068.41M1063.5 206.25V215.5M1070.45 200.25H1080.27M1070.45 211.25H1080.27M1075.36 200.25V211.25M1082.31 191.5H1092.13M1082.31 208H1092.13M1087.22 191.5V208M1094.17 184H1103.98M1094.17 202H1103.98M1099.07 184V202M1106.02 192.5H1115.84M1106.02 209.5H1115.84M1110.93 192.5V209.5M1117.88 164H1127.7M1117.88 187.5H1127.7M1122.79 164V187.5M1129.74 128.5H1139.56M1129.74 180.25H1139.56M1134.65 128.5V180.25M1141.6 206H1151.42M1141.6 214.5H1151.42M1146.51 206V214.5M1153.46 128.25H1163.28M1153.46 167.75H1163.28M1158.37 128.25V167.75M1165.32 130H1175.14M1165.32 168.75H1175.14M1170.23 130V168.75M1177.18 130H1187M1177.18 168.75H1187M1182.09 130V168.75M1189.04 176.25H1198.86M1189.04 197.25H1198.86M1193.95 176.25V197.25M1200.89 81.75H1210.71M1200.89 137H1210.71M1205.8 81.75V137M1212.75 151.5H1222.57M1212.75 180H1222.57M1217.66 151.5V180M1224.61 200.25H1234.43M1224.61 210.5H1234.43M1229.52 200.25V210.5M1236.47 113.75H1246.29M1236.47 172H1246.29M1241.38 113.75V172M1248.33 196.75H1258.15M1248.33 212.5H1258.15M1253.24 196.75V212.5M1260.19 107H1270.01M1260.19 166.75H1270.01M1265.1 107V166.75M1272.05 81.75H1281.87M1272.05 137H1281.87M1276.96 81.75V137M1283.91 110.75H1293.73M1283.91 176.75H1293.73M1288.82 110.75V176.75M1295.77 153.75H1305.58M1295.77 198.75H1305.58M1300.68 153.75V198.75M1307.62 116H1317.44M1307.62 158.25H1317.44M1312.53 116V158.25M1319.48 195H1329.3M1319.48 208H1329.3M1324.39 195V208M1331.34 202.5H1341.16M1331.34 212H1341.16M1336.25 202.5V212M1343.2 201H1353.02M1343.2 211.25H1353.02M1348.11 201V211.25M1355.06 171H1364.88M1355.06 197.5H1364.88M1359.97 171V197.5M1366.92 176H1376.74M1366.92 201.25H1376.74M1371.83 176V201.25M1378.78 138.75H1388.6M1378.78 173.25H1388.6M1383.69 138.75V173.25M1390.64 157.5H1400.46M1390.64 193H1400.46M1395.55 157.5V193M1402.5 198.25H1412.31M1402.5 211.25H1412.31M1407.4 198.25V211.25M1414.35 145.75H1424.17M1414.35 178H1424.17M1419.26 145.75V178M1426.21 211.75H1436.03M1426.21 216.5H1436.03M1431.12 211.75V216.5M1438.07 120.25H1447.89M1438.07 163.75H1447.89M1442.98 120.25V163.75M1449.93 187H1459.75M1449.93 204.5H1459.75M1454.84 187V204.5M1461.79 211.75H1471.61M1461.79 216.5H1471.61M1466.7 211.75V216.5M1473.65 120.25H1483.47M1473.65 162H1483.47M1478.56 120.25V162M1485.51 186H1495.33M1485.51 206.5H1495.33M1490.42 186V206.5M1497.37 188H1507.19M1497.37 205H1507.19M1502.28 188V205M1509.23 177.25H1519.04M1509.23 197.5H1519.04M1514.13 177.25V197.5" fill="none" stroke="#1a1a1a" stroke-width="1.6"/>
<line x1="878.5" y1="74.25" x2="878.5" y2="226.2" stroke="#333333" stroke-width="1.55"/>
<line x1="875" y1="220" x2="878.5" y2="220" stroke="#333333" stroke-width="1.2"/>
<text x="871.8" y="223.87" text-anchor="end" font-size="10.8" fill="#4d4d4d">0.0</text>
<line x1="875" y1="189.75" x2="878.5" y2="189.75" stroke="#333333" stroke-width="1.2"/>
<text x="871.8" y="193.62" text-anchor="end" font-size="10.8" fill="#4d4d4d">0.1</text>
<line x1="875" y1="159.5" x2="878.5" y2="159.5" stroke="#333333" stroke-width="1.2"/>
<text x="871.8" y="163.37" text-anchor="end" font-size="10.8" fill="#4d4d4d">0.2</text>
<line x1="875" y1="129.25" x2="878.5" y2="129.25" stroke="#333333" stroke-width="1.2"/>
<text x="871.8" y="133.12" text-anchor="end" font-size="10.8" fill="#4d4d4d">0.3</text>
<line x1="875" y1="99" x2="878.5" y2="99" stroke="#333333" stroke-width="1.2"/>
<text x="871.8" y="102.87" text-anchor="end" font-size="10.8" fill="#4d4d4d">0.4</text>
<rect x="878.5" y="235" width="642.75" height="20.75" fill="#ffffff" stroke="#222222" stroke-width="1.4"/>
<text x="1199.88" y="250.11" text-anchor="middle" font-size="12.4" fill="#262626">DALYs (Disability-Adjusted Life Years)</text>
<rect x="880.28" y="324" width="10.67" height="78" fill="#3f3f3f"/>
<rect x="892.14" y="369" width="10.67" height="33" fill="#37474a"/>
<rect x="904" y="386.5" width="10.67" height="15.5" fill="#2f4f4f"/>
<rect x="915.86" y="313.25" width="10.67" height="88.75" fill="#24504f"/>
<rect x="927.71" y="338.25" width="10.67" height="63.75" fill="#1f5a5a"/>
<rect x="939.57" y="372.25" width="10.67" height="29.75" fill="#1e6464"/>
<rect x="951.43" y="303" width="10.67" height="99" fill="#3a7d7a"/>
<rect x="963.29" y="359" width="10.67" height="43" fill="#5a9490"/>
<rect x="975.15" y="345.25" width="10.67" height="56.75" fill="#7db0a6"/>
<rect x="987.01" y="389.25" width="10.67" height="12.75" fill="#a3d1c2"/>
<rect x="998.87" y="356.5" width="10.67" height="45.5" fill="#9ecdbd"/>
<rect x="1010.73" y="329.5" width="10.67" height="72.5" fill="#8fb5a4"/>
<rect x="1022.59" y="336" width="10.67" height="66" fill="#7a9482"/>
<rect x="1034.44" y="387" width="10.67" height="15" fill="#5d6f5f"/>
<rect x="1046.3" y="315.5" width="10.67" height="86.5" fill="#4a4f38"/>
<rect x="1058.16" y="390.5" width="10.67" height="11.5" fill="#4a3b30"/>
<rect x="1070.02" y="385" width="10.67" height="17" fill="#7a5254"/>
<rect x="1081.88" y="377" width="10.67" height="25" fill="#a5626d"/>
<rect x="1093.74" y="369" width="10.67" height="33" fill="#cf7382"/>
<rect x="1105.6" y="379" width="10.67" height="23" fill="#ef7f92"/>
<rect x="1117.46" y="346.75" width="10.67" height="55.25" fill="#ee92aa"/>
<rect x="1129.31" y="326.5" width="10.67" height="75.5" fill="#d5a5c0"/>
<rect x="1141.17" y="390.5" width="10.67" height="11.5" fill="#b3b5cc"/>
<rect x="1153.03" y="327" width="10.67" height="75" fill="#9cc4d6"/>
<rect x="1164.89" y="328" width="10.67" height="74" fill="#87cbdc"/>
<rect x="1176.75" y="328" width="10.67" height="74" fill="#93bcc9"/>
<rect x="1188.61" y="367.25" width="10.67" height="34.75" fill="#b0a8a4"/>
<rect x="1200.47" y="293" width="10.67" height="109" fill="#cc8a84"/>
<rect x="1212.33" y="334" width="10.67" height="68" fill="#e9756a"/>
<rect x="1224.19" y="384.5" width="10.67" height="17.5" fill="#f2604a"/>
<rect x="1236.04" y="315" width="10.67" height="87" fill="#dc6a58"/>
<rect x="1247.9" y="383" width="10.67" height="19" fill="#b8736a"/>
<rect x="1259.76" y="306.75" width="10.67" height="95.25" fill="#947f7b"/>
<rect x="1271.62" y="293" width="10.67" height="109" fill="#6f8f8c"/>
<rect x="1283.48" y="316" width="10.67" height="86" fill="#4e9098"/>
<rect x="1295.34" y="345.5" width="10.67" height="56.5" fill="#6585a8"/>
<rect x="1307.2" y="313.25" width="10.67" height="88.75" fill="#7070a5"/>
<rect x="1319.06" y="379.5" width="10.67" height="22.5" fill="#7d58a5"/>
<rect x="1330.92" y="387" width="10.67" height="15" fill="#8a4ea8"/>
<rect x="1342.77" y="386" width="10.67" height="16" fill="#7c4da6"/>
<rect x="1354.63" y="356" width="10.67" height="46" fill="#5d55a5"/>
<rect x="1366.49" y="366" width="10.67" height="36" fill="#4568a8"/>
<rect x="1378.35" y="327.75" width="10.67" height="74.25" fill="#2a7fa8"/>
<rect x="1390.21" y="349.5" width="10.67" height="52.5" fill="#1a8c9c"/>
<rect x="1402.07" y="383.5" width="10.67" height="18.5" fill="#1c8088"/>
<rect x="1413.93" y="331.5" width="10.67" height="70.5" fill="#3b6870"/>
<rect x="1425.79" y="396" width="10.67" height="6" fill="#4a3a3c"/>
<rect x="1437.65" y="326.5" width="10.67" height="75.5" fill="#8f2d2a"/>
<rect x="1449.5" y="373.25" width="10.67" height="28.75" fill="#c0252c"/>
<rect x="1461.36" y="396" width="10.67" height="6" fill="#b01f30"/>
<rect x="1473.22" y="321.75" width="10.67" height="80.25" fill="#d93f1c"/>
<rect x="1485.08" y="374" width="10.67" height="28" fill="#e8581a"/>
<rect x="1496.94" y="373.75" width="10.67" height="28.25" fill="#f0661a"/>
<rect x="1508.8" y="360" width="10.67" height="42" fill="#f47a1c"/>
<path d="M880.71 302.75H890.52M880.71 343.25H890.52M885.62 302.75V343.25M892.56 352H902.38M892.56 380.75H902.38M897.47 352V380.75M904.42 377.75H914.24M904.42 392H914.24M909.33 377.75V392M916.28 290.25H926.1M916.28 335.25H926.1M921.19 290.25V335.25M928.14 313.75H937.96M928.14 359.25H937.96M933.05 313.75V359.25M940 360H949.82M940 380.5H949.82M944.91 360V380.5M951.86 274.25H961.68M951.86 328.25H961.68M956.77 274.25V328.25M963.72 343.75H973.54M963.72 370.5H973.54M968.63 343.75V370.5M975.58 326.25H985.4M975.58 359.25H985.4M980.49 326.25V359.25M987.44 381.75H997.25M987.44 394.5H997.25M992.35 381.75V394.5M999.29 340H1009.11M999.29 368H1009.11M1004.2 340V368M1011.15 308.25H1020.97M1011.15 348.25H1020.97M1016.06 308.25V348.25M1023.01 316.25H1032.83M1023.01 352H1032.83M1027.92 316.25V352M1034.87 378H1044.69M1034.87 393.25H1044.69M1039.78 378V393.25M1046.73 291.5H1056.55M1046.73 337H1056.55M1051.64 291.5V337M1058.59 383H1068.41M1058.59 395.5H1068.41M1063.5 383V395.5M1070.45 377H1080.27M1070.45 390.5H1080.27M1075.36 377V390.5M1082.31 363.5H1092.13M1082.31 385.5H1092.13M1087.22 363.5V385.5M1094.17 356.25H1103.98M1094.17 379H1103.98M1099.07 356.25V379M1106.02 365.75H1115.84M1106.02 388H1115.84M1110.93 365.75V388M1117.88 331H1127.7M1117.88 360H1127.7M1122.79 331V360M1129.74 289.25H1139.56M1129.74 352H1139.56M1134.65 289.25V352M1141.6 382.75H1151.42M1141.6 394.5H1151.42M1146.51 382.75V394.5M1153.46 305H1163.28M1153.46 345H1163.28M1158.37 305V345M1165.32 306.75H1175.14M1165.32 345.75H1175.14M1170.23 306.75V345.75M1177.18 306.75H1187M1177.18 345.75H1187M1182.09 306.75V345.75M1189.04 354.5H1198.86M1189.04 376.5H1198.86M1193.95 354.5V376.5M1200.89 266.5H1210.71M1200.89 320.5H1210.71M1205.8 266.5V320.5M1212.75 314.25H1222.57M1212.75 350.75H1222.57M1217.66 314.25V350.75M1224.61 376H1234.43M1224.61 389.5H1234.43M1229.52 376V389.5M1236.47 274.25H1246.29M1236.47 343.5H1246.29M1241.38 274.25V343.5M1248.33 369.25H1258.15M1248.33 391.5H1258.15M1253.24 369.25V391.5M1260.19 264H1270.01M1260.19 337H1270.01M1265.1 264V337M1272.05 266.5H1281.87M1272.05 320.5H1281.87M1276.96 266.5V320.5M1283.91 268.75H1293.73M1283.91 347.5H1293.73M1288.82 268.75V347.5M1295.77 312H1305.58M1295.77 373.5H1305.58M1300.68 312V373.5M1307.62 290.25H1317.44M1307.62 335.5H1317.44M1312.53 290.25V335.5M1319.48 370.25H1329.3M1319.48 386.75H1329.3M1324.39 370.25V386.75M1331.34 379.25H1341.16M1331.34 391.5H1341.16M1336.25 379.25V391.5M1343.2 377.5H1353.02M1343.2 390.5H1353.02M1348.11 377.5V390.5M1355.06 337.5H1364.88M1355.06 371.75H1364.88M1359.97 337.5V371.75M1366.92 347.25H1376.74M1366.92 379.25H1376.74M1371.83 347.25V379.25M1378.78 305H1388.6M1378.78 346.25H1388.6M1383.69 305V346.25M1390.64 324.5H1400.46M1390.64 367.75H1400.46M1395.55 324.5V367.75M1402.5 374.5H1412.31M1402.5 390.25H1412.31M1407.4 374.5V390.25M1414.35 311.25H1424.17M1414.35 349.5H1424.17M1419.26 311.25V349.5M1426.21 392.25H1436.03M1426.21 398H1436.03M1431.12 392.25V398M1438.07 305H1447.89M1438.07 345.5H1447.89M1442.98 305V345.5M1449.93 360.5H1459.75M1449.93 381.25H1459.75M1454.84 360.5V381.25M1461.79 392H1471.61M1461.79 398.25H1471.61M1466.7 392V398.25M1473.65 301H1483.47M1473.65 342H1483.47M1478.56 301V342M1485.51 358H1495.33M1485.51 385.5H1495.33M1490.42 358V385.5M1497.37 361.25H1507.19M1497.37 381.75H1507.19M1502.28 361.25V381.75M1509.23 345.75H1519.04M1509.23 371.5H1519.04M1514.13 345.75V371.5" fill="none" stroke="#1a1a1a" stroke-width="1.6"/>
<line x1="878.5" y1="255.75" x2="878.5" y2="409" stroke="#333333" stroke-width="1.55"/>
<line x1="877.8" y1="408.3" x2="1521.25" y2="408.3" stroke="#333333" stroke-width="1.55"/>
<line x1="875" y1="402" x2="878.5" y2="402" stroke="#333333" stroke-width="1.2"/>
<text x="871.8" y="405.87" text-anchor="end" font-size="10.8" fill="#4d4d4d">0</text>
<line x1="875" y1="364.4" x2="878.5" y2="364.4" stroke="#333333" stroke-width="1.2"/>
<text x="871.8" y="368.27" text-anchor="end" font-size="10.8" fill="#4d4d4d">3</text>
<line x1="875" y1="326.9" x2="878.5" y2="326.9" stroke="#333333" stroke-width="1.2"/>
<text x="871.8" y="330.77" text-anchor="end" font-size="10.8" fill="#4d4d4d">6</text>
<line x1="875" y1="289.3" x2="878.5" y2="289.3" stroke="#333333" stroke-width="1.2"/>
<text x="871.8" y="293.17" text-anchor="end" font-size="10.8" fill="#4d4d4d">9</text>
<line x1="885.62" y1="408.3" x2="885.62" y2="412.3" stroke="#333333" stroke-width="1.1"/>
<line x1="897.47" y1="408.3" x2="897.47" y2="412.3" stroke="#333333" stroke-width="1.1"/>
<line x1="909.33" y1="408.3" x2="909.33" y2="412.3" stroke="#333333" stroke-width="1.1"/>
<line x1="921.19" y1="408.3" x2="921.19" y2="412.3" stroke="#333333" stroke-width="1.1"/>
<line x1="933.05" y1="408.3" x2="933.05" y2="412.3" stroke="#333333" stroke-width="1.1"/>
<line x1="944.91" y1="408.3" x2="944.91" y2="412.3" stroke="#333333" stroke-width="1.1"/>
<line x1="956.77" y1="408.3" x2="956.77" y2="412.3" stroke="#333333" stroke-width="1.1"/>
<line x1="968.63" y1="408.3" x2="968.63" y2="412.3" stroke="#333333" stroke-width="1.1"/>
<line x1="980.49" y1="408.3" x2="980.49" y2="412.3" stroke="#333333" stroke-width="1.1"/>
<line x1="992.35" y1="408.3" x2="992.35" y2="412.3" stroke="#333333" stroke-width="1.1"/>
<line x1="1004.2" y1="408.3" x2="1004.2" y2="412.3" stroke="#333333" stroke-width="1.1"/>
<line x1="1016.06" y1="408.3" x2="1016.06" y2="412.3" stroke="#333333" stroke-width="1.1"/>
<line x1="1027.92" y1="408.3" x2="1027.92" y2="412.3" stroke="#333333" stroke-width="1.1"/>
<line x1="1039.78" y1="408.3" x2="1039.78" y2="412.3" stroke="#333333" stroke-width="1.1"/>
<line x1="1051.64" y1="408.3" x2="1051.64" y2="412.3" stroke="#333333" stroke-width="1.1"/>
<line x1="1063.5" y1="408.3" x2="1063.5" y2="412.3" stroke="#333333" stroke-width="1.1"/>
<line x1="1075.36" y1="408.3" x2="1075.36" y2="412.3" stroke="#333333" stroke-width="1.1"/>
<line x1="1087.22" y1="408.3" x2="1087.22" y2="412.3" stroke="#333333" stroke-width="1.1"/>
<line x1="1099.07" y1="408.3" x2="1099.07" y2="412.3" stroke="#333333" stroke-width="1.1"/>
<line x1="1110.93" y1="408.3" x2="1110.93" y2="412.3" stroke="#333333" stroke-width="1.1"/>
<line x1="1122.79" y1="408.3" x2="1122.79" y2="412.3" stroke="#333333" stroke-width="1.1"/>
<line x1="1134.65" y1="408.3" x2="1134.65" y2="412.3" stroke="#333333" stroke-width="1.1"/>
<line x1="1146.51" y1="408.3" x2="1146.51" y2="412.3" stroke="#333333" stroke-width="1.1"/>
<line x1="1158.37" y1="408.3" x2="1158.37" y2="412.3" stroke="#333333" stroke-width="1.1"/>
<line x1="1170.23" y1="408.3" x2="1170.23" y2="412.3" stroke="#333333" stroke-width="1.1"/>
<line x1="1182.09" y1="408.3" x2="1182.09" y2="412.3" stroke="#333333" stroke-width="1.1"/>
<line x1="1193.95" y1="408.3" x2="1193.95" y2="412.3" stroke="#333333" stroke-width="1.1"/>
<line x1="1205.8" y1="408.3" x2="1205.8" y2="412.3" stroke="#333333" stroke-width="1.1"/>
<line x1="1217.66" y1="408.3" x2="1217.66" y2="412.3" stroke="#333333" stroke-width="1.1"/>
<line x1="1229.52" y1="408.3" x2="1229.52" y2="412.3" stroke="#333333" stroke-width="1.1"/>
<line x1="1241.38" y1="408.3" x2="1241.38" y2="412.3" stroke="#333333" stroke-width="1.1"/>
<line x1="1253.24" y1="408.3" x2="1253.24" y2="412.3" stroke="#333333" stroke-width="1.1"/>
<line x1="1265.1" y1="408.3" x2="1265.1" y2="412.3" stroke="#333333" stroke-width="1.1"/>
<line x1="1276.96" y1="408.3" x2="1276.96" y2="412.3" stroke="#333333" stroke-width="1.1"/>
<line x1="1288.82" y1="408.3" x2="1288.82" y2="412.3" stroke="#333333" stroke-width="1.1"/>
<line x1="1300.68" y1="408.3" x2="1300.68" y2="412.3" stroke="#333333" stroke-width="1.1"/>
<line x1="1312.53" y1="408.3" x2="1312.53" y2="412.3" stroke="#333333" stroke-width="1.1"/>
<line x1="1324.39" y1="408.3" x2="1324.39" y2="412.3" stroke="#333333" stroke-width="1.1"/>
<line x1="1336.25" y1="408.3" x2="1336.25" y2="412.3" stroke="#333333" stroke-width="1.1"/>
<line x1="1348.11" y1="408.3" x2="1348.11" y2="412.3" stroke="#333333" stroke-width="1.1"/>
<line x1="1359.97" y1="408.3" x2="1359.97" y2="412.3" stroke="#333333" stroke-width="1.1"/>
<line x1="1371.83" y1="408.3" x2="1371.83" y2="412.3" stroke="#333333" stroke-width="1.1"/>
<line x1="1383.69" y1="408.3" x2="1383.69" y2="412.3" stroke="#333333" stroke-width="1.1"/>
<line x1="1395.55" y1="408.3" x2="1395.55" y2="412.3" stroke="#333333" stroke-width="1.1"/>
<line x1="1407.4" y1="408.3" x2="1407.4" y2="412.3" stroke="#333333" stroke-width="1.1"/>
<line x1="1419.26" y1="408.3" x2="1419.26" y2="412.3" stroke="#333333" stroke-width="1.1"/>
<line x1="1431.12" y1="408.3" x2="1431.12" y2="412.3" stroke="#333333" stroke-width="1.1"/>
<line x1="1442.98" y1="408.3" x2="1442.98" y2="412.3" stroke="#333333" stroke-width="1.1"/>
<line x1="1454.84" y1="408.3" x2="1454.84" y2="412.3" stroke="#333333" stroke-width="1.1"/>
<line x1="1466.7" y1="408.3" x2="1466.7" y2="412.3" stroke="#333333" stroke-width="1.1"/>
<line x1="1478.56" y1="408.3" x2="1478.56" y2="412.3" stroke="#333333" stroke-width="1.1"/>
<line x1="1490.42" y1="408.3" x2="1490.42" y2="412.3" stroke="#333333" stroke-width="1.1"/>
<line x1="1502.28" y1="408.3" x2="1502.28" y2="412.3" stroke="#333333" stroke-width="1.1"/>
<line x1="1514.13" y1="408.3" x2="1514.13" y2="412.3" stroke="#333333" stroke-width="1.1"/>
<text x="1199.75" y="426.13" text-anchor="middle" font-size="13.5" fill="#1a1a1a">GBD</text>
<text transform="translate(824.5 242.5) rotate(-90)" y="4.83" text-anchor="middle" font-size="13.5" fill="#1a1a1a">Age-standardized rate</text>
<rect x="878.5" y="443" width="642.75" height="21.25" fill="#ffffff" stroke="#222222" stroke-width="1.4"/>
<text x="1199.88" y="458.36" text-anchor="middle" font-size="12.4" fill="#262626">Deaths</text>
<rect x="880.28" y="497.75" width="10.67" height="95.25" fill="#3f3f3f"/>
<rect x="892.14" y="584.5" width="10.67" height="8.5" fill="#37474a"/>
<rect x="904" y="588.75" width="10.67" height="4.25" fill="#2f4f4f"/>
<rect x="915.86" y="543.75" width="10.67" height="49.25" fill="#24504f"/>
<rect x="927.71" y="591" width="10.67" height="2" fill="#1f5a5a"/>
<rect x="939.57" y="539.25" width="10.67" height="53.75" fill="#1e6464"/>
<rect x="951.43" y="590" width="10.67" height="3" fill="#3a7d7a"/>
<rect x="963.29" y="540" width="10.67" height="53" fill="#5a9490"/>
<rect x="975.15" y="591.75" width="10.67" height="1.25" fill="#7db0a6"/>
<rect x="987.01" y="592.5" width="10.67" height="0.5" fill="#a3d1c2"/>
<rect x="998.87" y="591.5" width="10.67" height="1.5" fill="#9ecdbd"/>
<rect x="1010.73" y="587" width="10.67" height="6" fill="#8fb5a4"/>
<rect x="1022.59" y="587.5" width="10.67" height="5.5" fill="#7a9482"/>
<rect x="1034.44" y="592.5" width="10.67" height="0.5" fill="#5d6f5f"/>
<rect x="1046.3" y="582.5" width="10.67" height="10.5" fill="#4a4f38"/>
<rect x="1058.16" y="591.5" width="10.67" height="1.5" fill="#4a3b30"/>
<rect x="1070.02" y="583" width="10.67" height="10" fill="#7a5254"/>
<rect x="1081.88" y="576.25" width="10.67" height="16.75" fill="#a5626d"/>
<rect x="1093.74" y="556.25" width="10.67" height="36.75" fill="#cf7382"/>
<rect x="1105.6" y="591" width="10.67" height="2" fill="#ef7f92"/>
<rect x="1117.46" y="586.75" width="10.67" height="6.25" fill="#ee92aa"/>
<rect x="1129.31" y="580" width="10.67" height="13" fill="#d5a5c0"/>
<rect x="1141.17" y="591.75" width="10.67" height="1.25" fill="#b3b5cc"/>
<rect x="1153.03" y="542.5" width="10.67" height="50.5" fill="#9cc4d6"/>
<rect x="1164.89" y="541.75" width="10.67" height="51.25" fill="#87cbdc"/>
<rect x="1176.75" y="541.25" width="10.67" height="51.75" fill="#93bcc9"/>
<rect x="1188.61" y="587" width="10.67" height="6" fill="#b0a8a4"/>
<rect x="1200.47" y="560.25" width="10.67" height="32.75" fill="#cc8a84"/>
<rect x="1212.33" y="576.25" width="10.67" height="16.75" fill="#e9756a"/>
<rect x="1224.19" y="580" width="10.67" height="13" fill="#f2604a"/>
<rect x="1236.04" y="581.75" width="10.67" height="11.25" fill="#dc6a58"/>
<rect x="1247.9" y="591.5" width="10.67" height="1.5" fill="#b8736a"/>
<rect x="1259.76" y="576" width="10.67" height="17" fill="#947f7b"/>
<rect x="1271.62" y="560.5" width="10.67" height="32.5" fill="#6f8f8c"/>
<rect x="1283.48" y="588.5" width="10.67" height="4.5" fill="#4e9098"/>
<rect x="1295.34" y="592.75" width="10.67" height="0.25" fill="#6585a8"/>
<rect x="1307.2" y="543.5" width="10.67" height="49.5" fill="#7070a5"/>
<rect x="1319.06" y="578" width="10.67" height="15" fill="#7d58a5"/>
<rect x="1330.92" y="585" width="10.67" height="8" fill="#8a4ea8"/>
<rect x="1342.77" y="583.5" width="10.67" height="9.5" fill="#7c4da6"/>
<rect x="1354.63" y="582.5" width="10.67" height="10.5" fill="#5d55a5"/>
<rect x="1366.49" y="591.25" width="10.67" height="1.75" fill="#4568a8"/>
<rect x="1378.35" y="590.5" width="10.67" height="2.5" fill="#2a7fa8"/>
<rect x="1390.21" y="591.5" width="10.67" height="1.5" fill="#1a8c9c"/>
<rect x="1402.07" y="589.25" width="10.67" height="3.75" fill="#1c8088"/>
<rect x="1413.93" y="587" width="10.67" height="6" fill="#3b6870"/>
<rect x="1425.79" y="592.5" width="10.67" height="0.5" fill="#4a3a3c"/>
<rect x="1437.65" y="559.5" width="10.67" height="33.5" fill="#8f2d2a"/>
<rect x="1449.5" y="565.5" width="10.67" height="27.5" fill="#c0252c"/>
<rect x="1461.36" y="592.5" width="10.67" height="0.5" fill="#b01f30"/>
<rect x="1473.22" y="509" width="10.67" height="84" fill="#d93f1c"/>
<rect x="1485.08" y="589.25" width="10.67" height="3.75" fill="#e8581a"/>
<rect x="1496.94" y="566.5" width="10.67" height="26.5" fill="#f0661a"/>
<rect x="1508.8" y="544.5" width="10.67" height="48.5" fill="#f47a1c"/>
<path d="M880.71 471H890.52M880.71 522.75H890.52M885.62 471V522.75M892.56 579.5H902.38M892.56 588H902.38M897.47 579.5V588M904.42 587H914.24M904.42 590.25H914.24M909.33 587V590.25M916.28 530.75H926.1M916.28 555.5H926.1M921.19 530.75V555.5M928.14 590.5H937.96M928.14 591.75H937.96M933.05 590.5V591.75M940 518H949.82M940 554.5H949.82M944.91 518V554.5M951.86 589.25H961.68M951.86 591H961.68M956.77 589.25V591M963.72 519.75H973.54M963.72 554.25H973.54M968.63 519.75V554.25M975.58 591.25H985.4M975.58 592.25H985.4M980.49 591.25V592.25M987.44 592.25H997.25M987.44 592.75H997.25M992.35 592.25V592.75M999.29 591H1009.11M999.29 592H1009.11M1004.2 591V592M1011.15 584.5H1020.97M1011.15 588.75H1020.97M1016.06 584.5V588.75M1023.01 585.5H1032.83M1023.01 589.25H1032.83M1027.92 585.5V589.25M1034.87 592.25H1044.69M1034.87 592.75H1044.69M1039.78 592.25V592.75M1046.73 578.5H1056.55M1046.73 585.25H1056.55M1051.64 578.5V585.25M1058.59 591H1068.41M1058.59 592H1068.41M1063.5 591V592M1070.45 577.5H1080.27M1070.45 586.25H1080.27M1075.36 577.5V586.25M1082.31 566.75H1092.13M1082.31 582H1092.13M1087.22 566.75V582M1094.17 541.75H1103.98M1094.17 567.5H1103.98M1099.07 541.75V567.5M1106.02 590.5H1115.84M1106.02 591.75H1115.84M1110.93 590.5V591.75M1117.88 584.25H1127.7M1117.88 588.5H1127.7M1122.79 584.25V588.5M1129.74 572.25H1139.56M1129.74 584H1139.56M1134.65 572.25V584M1141.6 591.25H1151.42M1141.6 592.25H1151.42M1146.51 591.25V592.25M1153.46 527.75H1163.28M1153.46 555.75H1163.28M1158.37 527.75V555.75M1165.32 527H1175.14M1165.32 555.75H1175.14M1170.23 527V555.75M1177.18 526H1187M1177.18 555.25H1187M1182.09 526V555.25M1189.04 584.25H1198.86M1189.04 588.75H1198.86M1193.95 584.25V588.75M1200.89 552H1210.71M1200.89 568.75H1210.71M1205.8 552V568.75M1212.75 571H1222.57M1212.75 580H1222.57M1217.66 571V580M1224.61 573.5H1234.43M1224.61 583.5H1234.43M1229.52 573.5V583.5M1236.47 575.5H1246.29M1236.47 585H1246.29M1241.38 575.5V585M1248.33 591H1258.15M1248.33 592H1258.15M1253.24 591V592M1260.19 568.25H1270.01M1260.19 581.75H1270.01M1265.1 568.25V581.75M1272.05 552H1281.87M1272.05 568.75H1281.87M1276.96 552V568.75M1283.91 585H1293.73M1283.91 589.75H1293.73M1288.82 585V589.75M1295.77 592.5H1305.58M1295.77 593H1305.58M1300.68 592.5V593M1307.62 530.5H1317.44M1307.62 555.5H1317.44M1312.53 530.5V555.5M1319.48 572H1329.3M1319.48 583H1329.3M1324.39 572V583M1331.34 580.75H1341.16M1331.34 587.75H1341.16M1336.25 580.75V587.75M1343.2 579.5H1353.02M1343.2 586.5H1353.02M1348.11 579.5V586.5M1355.06 577.75H1364.88M1355.06 586H1364.88M1359.97 577.75V586M1366.92 590.75H1376.74M1366.92 591.75H1376.74M1371.83 590.75V591.75M1378.78 590H1388.6M1378.78 591.25H1388.6M1383.69 590V591.25M1390.64 591H1400.46M1390.64 592H1400.46M1395.55 591V592M1402.5 587.75H1412.31M1402.5 590.5H1412.31M1407.4 587.75V590.5M1414.35 584.25H1424.17M1414.35 589.25H1424.17M1419.26 584.25V589.25M1426.21 592.25H1436.03M1426.21 592.75H1436.03M1431.12 592.25V592.75M1438.07 549.25H1447.89M1438.07 568.75H1447.89M1442.98 549.25V568.75M1449.93 553.25H1459.75M1449.93 573.75H1459.75M1454.84 553.25V573.75M1461.79 592.25H1471.61M1461.79 592.75H1471.61M1466.7 592.25V592.75M1473.65 485.5H1483.47M1473.65 531H1483.47M1478.56 485.5V531M1485.51 587.5H1495.33M1485.51 591H1495.33M1490.42 587.5V591M1497.37 554.5H1507.19M1497.37 574.25H1507.19M1502.28 554.5V574.25M1509.23 527.5H1519.04M1509.23 557.5H1519.04M1514.13 527.5V557.5" fill="none" stroke="#1a1a1a" stroke-width="1.6"/>
<line x1="878.5" y1="464.25" x2="878.5" y2="599" stroke="#333333" stroke-width="1.55"/>
<line x1="875" y1="593" x2="878.5" y2="593" stroke="#333333" stroke-width="1.2"/>
<text x="871.8" y="596.87" text-anchor="end" font-size="10.8" fill="#4d4d4d">0</text>
<line x1="875" y1="558.75" x2="878.5" y2="558.75" stroke="#333333" stroke-width="1.2"/>
<text x="871.8" y="562.62" text-anchor="end" font-size="10.8" fill="#4d4d4d">2500</text>
<line x1="875" y1="524.5" x2="878.5" y2="524.5" stroke="#333333" stroke-width="1.2"/>
<text x="871.8" y="528.37" text-anchor="end" font-size="10.8" fill="#4d4d4d">5000</text>
<line x1="875" y1="490.25" x2="878.5" y2="490.25" stroke="#333333" stroke-width="1.2"/>
<text x="871.8" y="494.12" text-anchor="end" font-size="10.8" fill="#4d4d4d">7500</text>
<rect x="878.5" y="607" width="642.75" height="21.25" fill="#ffffff" stroke="#222222" stroke-width="1.4"/>
<text x="1199.88" y="622.36" text-anchor="middle" font-size="12.4" fill="#262626">DALYs (Disability-Adjusted Life Years)</text>
<rect x="880.28" y="661" width="10.67" height="95.75" fill="#3f3f3f"/>
<rect x="892.14" y="743" width="10.67" height="13.75" fill="#37474a"/>
<rect x="904" y="752" width="10.67" height="4.75" fill="#2f4f4f"/>
<rect x="915.86" y="700.75" width="10.67" height="56" fill="#24504f"/>
<rect x="927.71" y="754.75" width="10.67" height="2" fill="#1f5a5a"/>
<rect x="939.57" y="680.5" width="10.67" height="76.25" fill="#1e6464"/>
<rect x="951.43" y="754.25" width="10.67" height="2.5" fill="#3a7d7a"/>
<rect x="963.29" y="677.5" width="10.67" height="79.25" fill="#5a9490"/>
<rect x="975.15" y="755" width="10.67" height="1.75" fill="#7db0a6"/>
<rect x="987.01" y="756" width="10.67" height="0.75" fill="#a3d1c2"/>
<rect x="998.87" y="754.25" width="10.67" height="2.5" fill="#9ecdbd"/>
<rect x="1010.73" y="750.25" width="10.67" height="6.5" fill="#8fb5a4"/>
<rect x="1022.59" y="749" width="10.67" height="7.75" fill="#7a9482"/>
<rect x="1034.44" y="756" width="10.67" height="0.75" fill="#5d6f5f"/>
<rect x="1046.3" y="747" width="10.67" height="9.75" fill="#4a4f38"/>
<rect x="1058.16" y="754.5" width="10.67" height="2.25" fill="#4a3b30"/>
<rect x="1070.02" y="741" width="10.67" height="15.75" fill="#7a5254"/>
<rect x="1081.88" y="733" width="10.67" height="23.75" fill="#a5626d"/>
<rect x="1093.74" y="706.75" width="10.67" height="50" fill="#cf7382"/>
<rect x="1105.6" y="754" width="10.67" height="2.75" fill="#ef7f92"/>
<rect x="1117.46" y="749.5" width="10.67" height="7.25" fill="#ee92aa"/>
<rect x="1129.31" y="734.5" width="10.67" height="22.25" fill="#d5a5c0"/>
<rect x="1141.17" y="754.75" width="10.67" height="2" fill="#b3b5cc"/>
<rect x="1153.03" y="705.5" width="10.67" height="51.25" fill="#9cc4d6"/>
<rect x="1164.89" y="704.5" width="10.67" height="52.25" fill="#87cbdc"/>
<rect x="1176.75" y="704" width="10.67" height="52.75" fill="#93bcc9"/>
<rect x="1188.61" y="751.25" width="10.67" height="5.5" fill="#b0a8a4"/>
<rect x="1200.47" y="725" width="10.67" height="31.75" fill="#cc8a84"/>
<rect x="1212.33" y="733.25" width="10.67" height="23.5" fill="#e9756a"/>
<rect x="1224.19" y="735.5" width="10.67" height="21.25" fill="#f2604a"/>
<rect x="1236.04" y="739.25" width="10.67" height="17.5" fill="#dc6a58"/>
<rect x="1247.9" y="754.25" width="10.67" height="2.5" fill="#b8736a"/>
<rect x="1259.76" y="731" width="10.67" height="25.75" fill="#947f7b"/>
<rect x="1271.62" y="725.25" width="10.67" height="31.5" fill="#6f8f8c"/>
<rect x="1283.48" y="749" width="10.67" height="7.75" fill="#4e9098"/>
<rect x="1295.34" y="756.5" width="10.67" height="0.25" fill="#6585a8"/>
<rect x="1307.2" y="700.75" width="10.67" height="56" fill="#7070a5"/>
<rect x="1319.06" y="733.5" width="10.67" height="23.25" fill="#7d58a5"/>
<rect x="1330.92" y="744.25" width="10.67" height="12.5" fill="#8a4ea8"/>
<rect x="1342.77" y="742.5" width="10.67" height="14.25" fill="#7c4da6"/>
<rect x="1354.63" y="740.25" width="10.67" height="16.5" fill="#5d55a5"/>
<rect x="1366.49" y="754.25" width="10.67" height="2.5" fill="#4568a8"/>
<rect x="1378.35" y="753.75" width="10.67" height="3" fill="#2a7fa8"/>
<rect x="1390.21" y="754.75" width="10.67" height="2" fill="#1a8c9c"/>
<rect x="1402.07" y="751" width="10.67" height="5.75" fill="#1c8088"/>
<rect x="1413.93" y="748.75" width="10.67" height="8" fill="#3b6870"/>
<rect x="1425.79" y="755.5" width="10.67" height="1.25" fill="#4a3a3c"/>
<rect x="1437.65" y="726.75" width="10.67" height="30" fill="#8f2d2a"/>
<rect x="1449.5" y="721" width="10.67" height="35.75" fill="#c0252c"/>
<rect x="1461.36" y="755.25" width="10.67" height="1.5" fill="#b01f30"/>
<rect x="1473.22" y="675.5" width="10.67" height="81.25" fill="#d93f1c"/>
<rect x="1485.08" y="752" width="10.67" height="4.75" fill="#e8581a"/>
<rect x="1496.94" y="714.5" width="10.67" height="42.25" fill="#f0661a"/>
<rect x="1508.8" y="688.5" width="10.67" height="68.25" fill="#f47a1c"/>
<path d="M880.71 634.75H890.52M880.71 685H890.52M885.62 634.75V685M892.56 735.25H902.38M892.56 748H902.38M897.47 735.25V748M904.42 748.25H914.24M904.42 754.25H914.24M909.33 748.25V754.25M916.28 686.5H926.1M916.28 714.25H926.1M921.19 686.5V714.25M928.14 754.25H937.96M928.14 755.5H937.96M933.05 754.25V755.5M940 649.75H949.82M940 702.5H949.82M944.91 649.75V702.5M951.86 753.5H961.68M951.86 755H961.68M956.77 753.5V755M963.72 649.25H973.54M963.72 699.5H973.54M968.63 649.25V699.5M975.58 754.5H985.4M975.58 755.5H985.4M980.49 754.5V755.5M987.44 755.75H997.25M987.44 756.5H997.25M992.35 755.75V756.5M999.29 753.75H1009.11M999.29 755H1009.11M1004.2 753.75V755M1011.15 747.75H1020.97M1011.15 752H1020.97M1016.06 747.75V752M1023.01 745.75H1032.83M1023.01 751.25H1032.83M1027.92 745.75V751.25M1034.87 755.75H1044.69M1034.87 756.5H1044.69M1039.78 755.75V756.5M1046.73 743.25H1056.55M1046.73 749.75H1056.55M1051.64 743.25V749.75M1058.59 754H1068.41M1058.59 755.25H1068.41M1063.5 754V755.25M1070.45 733.5H1080.27M1070.45 745.5H1080.27M1075.36 733.5V745.5M1082.31 719.25H1092.13M1082.31 740.75H1092.13M1087.22 719.25V740.75M1094.17 687.75H1103.98M1094.17 723H1103.98M1099.07 687.75V723M1106.02 752.25H1115.84M1106.02 755.25H1115.84M1110.93 752.25V755.25M1117.88 746H1127.7M1117.88 751.5H1127.7M1122.79 746V751.5M1129.74 724H1139.56M1129.74 742H1139.56M1134.65 724V742M1141.6 754.25H1151.42M1141.6 755.5H1151.42M1146.51 754.25V755.5M1153.46 690.75H1163.28M1153.46 718.5H1163.28M1158.37 690.75V718.5M1165.32 689H1175.14M1165.32 717.75H1175.14M1170.23 689V717.75M1177.18 688H1187M1177.18 717.25H1187M1182.09 688V717.25M1189.04 748.5H1198.86M1189.04 753H1198.86M1193.95 748.5V753M1200.89 716.75H1210.71M1200.89 733H1210.71M1205.8 716.75V733M1212.75 725.5H1222.57M1212.75 738.75H1222.57M1217.66 725.5V738.75M1224.61 725.25H1234.43M1224.61 741.75H1234.43M1229.52 725.25V741.75M1236.47 730.25H1246.29M1236.47 744.75H1246.29M1241.38 730.25V744.75M1248.33 753.75H1258.15M1248.33 755H1258.15M1253.24 753.75V755M1260.19 719H1270.01M1260.19 739.5H1270.01M1265.1 719V739.5M1272.05 716.75H1281.87M1272.05 733H1281.87M1276.96 716.75V733M1283.91 745H1293.73M1283.91 752H1293.73M1288.82 745V752M1295.77 756.25H1305.58M1295.77 756.75H1305.58M1300.68 756.25V756.75M1307.62 686.5H1317.44M1307.62 714.25H1317.44M1312.53 686.5V714.25M1319.48 724.5H1329.3M1319.48 741.25H1329.3M1324.39 724.5V741.25M1331.34 737.25H1341.16M1331.34 748H1341.16M1336.25 737.25V748M1343.2 735H1353.02M1343.2 747.25H1353.02M1348.11 735V747.25M1355.06 733.5H1364.88M1355.06 745.75H1364.88M1359.97 733.5V745.75M1366.92 753.75H1376.74M1366.92 755H1376.74M1371.83 753.75V755M1378.78 753.25H1388.6M1378.78 754.5H1388.6M1383.69 753.25V754.5M1390.64 754.25H1400.46M1390.64 755.5H1400.46M1395.55 754.25V755.5M1402.5 747.5H1412.31M1402.5 753H1412.31M1407.4 747.5V753M1414.35 745.25H1424.17M1414.35 751.25H1424.17M1419.26 745.25V751.25M1426.21 755.25H1436.03M1426.21 756H1436.03M1431.12 755.25V756M1438.07 717.75H1447.89M1438.07 734.5H1447.89M1442.98 717.75V734.5M1449.93 705.25H1459.75M1449.93 732H1459.75M1454.84 705.25V732M1461.79 754.75H1471.61M1461.79 755.75H1471.61M1466.7 754.75V755.75M1473.65 653.75H1483.47M1473.65 696H1483.47M1478.56 653.75V696M1485.51 747H1495.33M1485.51 753.75H1495.33M1490.42 747V753.75M1497.37 696.25H1507.19M1497.37 727H1507.19M1502.28 696.25V727M1509.23 664.5H1519.04M1509.23 706.25H1519.04M1514.13 664.5V706.25" fill="none" stroke="#1a1a1a" stroke-width="1.6"/>
<line x1="878.5" y1="628.25" x2="878.5" y2="763.5" stroke="#333333" stroke-width="1.55"/>
<line x1="877.8" y1="762.8" x2="1521.25" y2="762.8" stroke="#333333" stroke-width="1.55"/>
<line x1="875" y1="756.75" x2="878.5" y2="756.75" stroke="#333333" stroke-width="1.2"/>
<text x="871.8" y="760.62" text-anchor="end" font-size="10.8" fill="#4d4d4d">0</text>
<line x1="875" y1="725.7" x2="878.5" y2="725.7" stroke="#333333" stroke-width="1.2"/>
<text x="871.8" y="729.57" text-anchor="end" font-size="10.8" fill="#4d4d4d">50000</text>
<line x1="875" y1="694.6" x2="878.5" y2="694.6" stroke="#333333" stroke-width="1.2"/>
<text x="871.8" y="698.47" text-anchor="end" font-size="10.8" fill="#4d4d4d">100000</text>
<line x1="875" y1="663.55" x2="878.5" y2="663.55" stroke="#333333" stroke-width="1.2"/>
<text x="871.8" y="667.42" text-anchor="end" font-size="10.8" fill="#4d4d4d">150000</text>
<line x1="875" y1="632.5" x2="878.5" y2="632.5" stroke="#333333" stroke-width="1.2"/>
<text x="871.8" y="636.37" text-anchor="end" font-size="10.8" fill="#4d4d4d">200000</text>
<line x1="885.62" y1="762.8" x2="885.62" y2="766.6" stroke="#333333" stroke-width="1.1"/>
<text transform="translate(891.92 774.6) rotate(-60)" text-anchor="end" font-size="11.05" fill="#4d4d4d">Advanced Health System</text>
<line x1="897.47" y1="762.8" x2="897.47" y2="766.6" stroke="#333333" stroke-width="1.1"/>
<text transform="translate(903.77 774.6) rotate(-60)" text-anchor="end" font-size="11.05" fill="#4d4d4d">Africa</text>
<line x1="909.33" y1="762.8" x2="909.33" y2="766.6" stroke="#333333" stroke-width="1.1"/>
<text transform="translate(915.63 774.6) rotate(-60)" text-anchor="end" font-size="11.05" fill="#4d4d4d">African Region</text>
<line x1="921.19" y1="762.8" x2="921.19" y2="766.6" stroke="#333333" stroke-width="1.1"/>
<text transform="translate(927.49 774.6) rotate(-60)" text-anchor="end" font-size="11.05" fill="#4d4d4d">America</text>
<line x1="933.05" y1="762.8" x2="933.05" y2="766.6" stroke="#333333" stroke-width="1.1"/>
<text transform="translate(939.35 774.6) rotate(-60)" text-anchor="end" font-size="11.05" fill="#4d4d4d">Andean Latin America</text>
<line x1="944.91" y1="762.8" x2="944.91" y2="766.6" stroke="#333333" stroke-width="1.1"/>
<text transform="translate(951.21 774.6) rotate(-60)" text-anchor="end" font-size="11.05" fill="#4d4d4d">Asia</text>
<line x1="956.77" y1="762.8" x2="956.77" y2="766.6" stroke="#333333" stroke-width="1.1"/>
<text transform="translate(963.07 774.6) rotate(-60)" text-anchor="end" font-size="11.05" fill="#4d4d4d">Australasia</text>
<line x1="968.63" y1="762.8" x2="968.63" y2="766.6" stroke="#333333" stroke-width="1.1"/>
<text transform="translate(974.93 774.6) rotate(-60)" text-anchor="end" font-size="11.05" fill="#4d4d4d">Basic Health System</text>
<line x1="980.49" y1="762.8" x2="980.49" y2="766.6" stroke="#333333" stroke-width="1.1"/>
<text transform="translate(986.79 774.6) rotate(-60)" text-anchor="end" font-size="11.05" fill="#4d4d4d">Caribbean</text>
<line x1="992.35" y1="762.8" x2="992.35" y2="766.6" stroke="#333333" stroke-width="1.1"/>
<text transform="translate(998.65 774.6) rotate(-60)" text-anchor="end" font-size="11.05" fill="#4d4d4d">Central Africa</text>
<line x1="1004.2" y1="762.8" x2="1004.2" y2="766.6" stroke="#333333" stroke-width="1.1"/>
<text transform="translate(1010.5 774.6) rotate(-60)" text-anchor="end" font-size="11.05" fill="#4d4d4d">Central Asia</text>
<line x1="1016.06" y1="762.8" x2="1016.06" y2="766.6" stroke="#333333" stroke-width="1.1"/>
<text transform="translate(1022.36 774.6) rotate(-60)" text-anchor="end" font-size="11.05" fill="#4d4d4d">Central Europe</text>
<line x1="1027.92" y1="762.8" x2="1027.92" y2="766.6" stroke="#333333" stroke-width="1.1"/>
<text transform="translate(1034.22 774.6) rotate(-60)" text-anchor="end" font-size="11.05" fill="#4d4d4d">Central Latin America</text>
<line x1="1039.78" y1="762.8" x2="1039.78" y2="766.6" stroke="#333333" stroke-width="1.1"/>
<text transform="translate(1046.08 774.6) rotate(-60)" text-anchor="end" font-size="11.05" fill="#4d4d4d">Central Sub-Saharan Africa</text>
<line x1="1051.64" y1="762.8" x2="1051.64" y2="766.6" stroke="#333333" stroke-width="1.1"/>
<text transform="translate(1057.94 774.6) rotate(-60)" text-anchor="end" font-size="11.05" fill="#4d4d4d">Commonwealth High Income</text>
<line x1="1063.5" y1="762.8" x2="1063.5" y2="766.6" stroke="#333333" stroke-width="1.1"/>
<text transform="translate(1069.8 774.6) rotate(-60)" text-anchor="end" font-size="11.05" fill="#4d4d4d">Commonwealth Low Income</text>
<line x1="1075.36" y1="762.8" x2="1075.36" y2="766.6" stroke="#333333" stroke-width="1.1"/>
<text transform="translate(1081.66 774.6) rotate(-60)" text-anchor="end" font-size="11.05" fill="#4d4d4d">Commonwealth Middle Income</text>
<line x1="1087.22" y1="762.8" x2="1087.22" y2="766.6" stroke="#333333" stroke-width="1.1"/>
<text transform="translate(1093.52 774.6) rotate(-60)" text-anchor="end" font-size="11.05" fill="#4d4d4d">East Asia</text>
<line x1="1099.07" y1="762.8" x2="1099.07" y2="766.6" stroke="#333333" stroke-width="1.1"/>
<text transform="translate(1105.37 774.6) rotate(-60)" text-anchor="end" font-size="11.05" fill="#4d4d4d">East Asia &amp; Pacific - WB</text>
<line x1="1110.93" y1="762.8" x2="1110.93" y2="766.6" stroke="#333333" stroke-width="1.1"/>
<text transform="translate(1117.23 774.6) rotate(-60)" text-anchor="end" font-size="11.05" fill="#4d4d4d">Eastern Africa</text>
<line x1="1122.79" y1="762.8" x2="1122.79" y2="766.6" stroke="#333333" stroke-width="1.1"/>
<text transform="translate(1129.09 774.6) rotate(-60)" text-anchor="end" font-size="11.05" fill="#4d4d4d">Eastern Europe</text>
<line x1="1134.65" y1="762.8" x2="1134.65" y2="766.6" stroke="#333333" stroke-width="1.1"/>
<text transform="translate(1140.95 774.6) rotate(-60)" text-anchor="end" font-size="11.05" fill="#4d4d4d">Eastern Mediterranean Region</text>
<line x1="1146.51" y1="762.8" x2="1146.51" y2="766.6" stroke="#333333" stroke-width="1.1"/>
<text transform="translate(1152.81 774.6) rotate(-60)" text-anchor="end" font-size="11.05" fill="#4d4d4d">Eastern Sub-Saharan Africa</text>
<line x1="1158.37" y1="762.8" x2="1158.37" y2="766.6" stroke="#333333" stroke-width="1.1"/>
<text transform="translate(1164.67 774.6) rotate(-60)" text-anchor="end" font-size="11.05" fill="#4d4d4d">Europe</text>
<line x1="1170.23" y1="762.8" x2="1170.23" y2="766.6" stroke="#333333" stroke-width="1.1"/>
<text transform="translate(1176.53 774.6) rotate(-60)" text-anchor="end" font-size="11.05" fill="#4d4d4d">Europe &amp; Central Asia - WB</text>
<line x1="1182.09" y1="762.8" x2="1182.09" y2="766.6" stroke="#333333" stroke-width="1.1"/>
<text transform="translate(1188.39 774.6) rotate(-60)" text-anchor="end" font-size="11.05" fill="#4d4d4d">European Region</text>
<line x1="1193.95" y1="762.8" x2="1193.95" y2="766.6" stroke="#333333" stroke-width="1.1"/>
<text transform="translate(1200.25 774.6) rotate(-60)" text-anchor="end" font-size="11.05" fill="#4d4d4d">High-income Asia Pacific</text>
<line x1="1205.8" y1="762.8" x2="1205.8" y2="766.6" stroke="#333333" stroke-width="1.1"/>
<text transform="translate(1212.1 774.6) rotate(-60)" text-anchor="end" font-size="11.05" fill="#4d4d4d">High-income North America</text>
<line x1="1217.66" y1="762.8" x2="1217.66" y2="766.6" stroke="#333333" stroke-width="1.1"/>
<text transform="translate(1223.96 774.6) rotate(-60)" text-anchor="end" font-size="11.05" fill="#4d4d4d">Latin America &amp; Caribbean - WB</text>
<line x1="1229.52" y1="762.8" x2="1229.52" y2="766.6" stroke="#333333" stroke-width="1.1"/>
<text transform="translate(1235.82 774.6) rotate(-60)" text-anchor="end" font-size="11.05" fill="#4d4d4d">Limited Health System</text>
<line x1="1241.38" y1="762.8" x2="1241.38" y2="766.6" stroke="#333333" stroke-width="1.1"/>
<text transform="translate(1247.68 774.6) rotate(-60)" text-anchor="end" font-size="11.05" fill="#4d4d4d">Middle East &amp; North Africa - WB</text>
<line x1="1253.24" y1="762.8" x2="1253.24" y2="766.6" stroke="#333333" stroke-width="1.1"/>
<text transform="translate(1259.54 774.6) rotate(-60)" text-anchor="end" font-size="11.05" fill="#4d4d4d">Minimal Health System</text>
<line x1="1265.1" y1="762.8" x2="1265.1" y2="766.6" stroke="#333333" stroke-width="1.1"/>
<text transform="translate(1271.4 774.6) rotate(-60)" text-anchor="end" font-size="11.05" fill="#4d4d4d">North Africa and Middle East</text>
<line x1="1276.96" y1="762.8" x2="1276.96" y2="766.6" stroke="#333333" stroke-width="1.1"/>
<text transform="translate(1283.26 774.6) rotate(-60)" text-anchor="end" font-size="11.05" fill="#4d4d4d">North America</text>
<line x1="1288.82" y1="762.8" x2="1288.82" y2="766.6" stroke="#333333" stroke-width="1.1"/>
<text transform="translate(1295.12 774.6) rotate(-60)" text-anchor="end" font-size="11.05" fill="#4d4d4d">Northern Africa</text>
<line x1="1300.68" y1="762.8" x2="1300.68" y2="766.6" stroke="#333333" stroke-width="1.1"/>
<text transform="translate(1306.98 774.6) rotate(-60)" text-anchor="end" font-size="11.05" fill="#4d4d4d">Oceania</text>
<line x1="1312.53" y1="762.8" x2="1312.53" y2="766.6" stroke="#333333" stroke-width="1.1"/>
<text transform="translate(1318.83 774.6) rotate(-60)" text-anchor="end" font-size="11.05" fill="#4d4d4d">Region of the Americas</text>
<line x1="1324.39" y1="762.8" x2="1324.39" y2="766.6" stroke="#333333" stroke-width="1.1"/>
<text transform="translate(1330.69 774.6) rotate(-60)" text-anchor="end" font-size="11.05" fill="#4d4d4d">South-East Asia Region</text>
<line x1="1336.25" y1="762.8" x2="1336.25" y2="766.6" stroke="#333333" stroke-width="1.1"/>
<text transform="translate(1342.55 774.6) rotate(-60)" text-anchor="end" font-size="11.05" fill="#4d4d4d">South Asia</text>
<line x1="1348.11" y1="762.8" x2="1348.11" y2="766.6" stroke="#333333" stroke-width="1.1"/>
<text transform="translate(1354.41 774.6) rotate(-60)" text-anchor="end" font-size="11.05" fill="#4d4d4d">South Asia - WB</text>
<line x1="1359.97" y1="762.8" x2="1359.97" y2="766.6" stroke="#333333" stroke-width="1.1"/>
<text transform="translate(1366.27 774.6) rotate(-60)" text-anchor="end" font-size="11.05" fill="#4d4d4d">Southeast Asia</text>
<line x1="1371.83" y1="762.8" x2="1371.83" y2="766.6" stroke="#333333" stroke-width="1.1"/>
<text transform="translate(1378.13 774.6) rotate(-60)" text-anchor="end" font-size="11.05" fill="#4d4d4d">Southern Africa</text>
<line x1="1383.69" y1="762.8" x2="1383.69" y2="766.6" stroke="#333333" stroke-width="1.1"/>
<text transform="translate(1389.99 774.6) rotate(-60)" text-anchor="end" font-size="11.05" fill="#4d4d4d">Southern Latin America</text>
<line x1="1395.55" y1="762.8" x2="1395.55" y2="766.6" stroke="#333333" stroke-width="1.1"/>
<text transform="translate(1401.85 774.6) rotate(-60)" text-anchor="end" font-size="11.05" fill="#4d4d4d">Southern Sub-Saharan Africa</text>
<line x1="1407.4" y1="762.8" x2="1407.4" y2="766.6" stroke="#333333" stroke-width="1.1"/>
<text transform="translate(1413.7 774.6) rotate(-60)" text-anchor="end" font-size="11.05" fill="#4d4d4d">Sub-Saharan Africa - WB</text>
<line x1="1419.26" y1="762.8" x2="1419.26" y2="766.6" stroke="#333333" stroke-width="1.1"/>
<text transform="translate(1425.56 774.6) rotate(-60)" text-anchor="end" font-size="11.05" fill="#4d4d4d">Tropical Latin America</text>
<line x1="1431.12" y1="762.8" x2="1431.12" y2="766.6" stroke="#333333" stroke-width="1.1"/>
<text transform="translate(1437.42 774.6) rotate(-60)" text-anchor="end" font-size="11.05" fill="#4d4d4d">Western Africa</text>
<line x1="1442.98" y1="762.8" x2="1442.98" y2="766.6" stroke="#333333" stroke-width="1.1"/>
<text transform="translate(1449.28 774.6) rotate(-60)" text-anchor="end" font-size="11.05" fill="#4d4d4d">Western Europe</text>
<line x1="1454.84" y1="762.8" x2="1454.84" y2="766.6" stroke="#333333" stroke-width="1.1"/>
<text transform="translate(1461.14 774.6) rotate(-60)" text-anchor="end" font-size="11.05" fill="#4d4d4d">Western Pacific Region</text>
<line x1="1466.7" y1="762.8" x2="1466.7" y2="766.6" stroke="#333333" stroke-width="1.1"/>
<text transform="translate(1473 774.6) rotate(-60)" text-anchor="end" font-size="11.05" fill="#4d4d4d">Western Sub-Saharan Africa</text>
<line x1="1478.56" y1="762.8" x2="1478.56" y2="766.6" stroke="#333333" stroke-width="1.1"/>
<text transform="translate(1484.86 774.6) rotate(-60)" text-anchor="end" font-size="11.05" fill="#4d4d4d">World Bank High Income</text>
<line x1="1490.42" y1="762.8" x2="1490.42" y2="766.6" stroke="#333333" stroke-width="1.1"/>
<text transform="translate(1496.72 774.6) rotate(-60)" text-anchor="end" font-size="11.05" fill="#4d4d4d">World Bank Low Income</text>
<line x1="1502.28" y1="762.8" x2="1502.28" y2="766.6" stroke="#333333" stroke-width="1.1"/>
<text transform="translate(1508.58 774.6) rotate(-60)" text-anchor="end" font-size="11.05" fill="#4d4d4d">World Bank Lower Middle Income</text>
<line x1="1514.13" y1="762.8" x2="1514.13" y2="766.6" stroke="#333333" stroke-width="1.1"/>
<text transform="translate(1520.43 774.6) rotate(-60)" text-anchor="end" font-size="11.05" fill="#4d4d4d">World Bank Upper Middle Income</text>
<text x="1199.75" y="932.83" text-anchor="middle" font-size="13.5" fill="#1a1a1a">GBD</text>
<text transform="translate(824.5 613.5) rotate(-90)" y="4.83" text-anchor="middle" font-size="13.5" fill="#1a1a1a">Number of cases</text>
<text x="854.3" y="28" font-size="26.5" font-weight="bold" font-family="Liberation Serif, serif" fill="#111">B</text>
<rect x="79.5" y="965.25" width="239.25" height="21.5" fill="#ffffff" stroke="#222222" stroke-width="1.4"/>
<text x="199.12" y="980.74" text-anchor="middle" font-size="12.4" fill="#262626">Deaths</text>
<rect x="95.45" y="1036" width="97.9" height="118.25" fill="#ee6f1b"/>
<rect x="204.65" y="1064.25" width="97.9" height="90" fill="#b81c23"/>
<path d="M95.45 995.5H193.35M95.45 1067.75H193.35M144.4 995.5V1067.75M204.65 1033.75H302.55M204.65 1089.5H302.55M253.6 1033.75V1089.5" fill="none" stroke="#1a1a1a" stroke-width="1.5"/>
<line x1="79.5" y1="986.75" x2="79.5" y2="1162" stroke="#333333" stroke-width="1.55"/>
<line x1="76" y1="1154.25" x2="79.5" y2="1154.25" stroke="#333333" stroke-width="1.2"/>
<text x="72.8" y="1158.12" text-anchor="end" font-size="10.8" fill="#4d4d4d">0.00</text>
<line x1="76" y1="1117.8" x2="79.5" y2="1117.8" stroke="#333333" stroke-width="1.2"/>
<text x="72.8" y="1121.67" text-anchor="end" font-size="10.8" fill="#4d4d4d">0.05</text>
<line x1="76" y1="1081.4" x2="79.5" y2="1081.4" stroke="#333333" stroke-width="1.2"/>
<text x="72.8" y="1085.27" text-anchor="end" font-size="10.8" fill="#4d4d4d">0.10</text>
<line x1="76" y1="1045" x2="79.5" y2="1045" stroke="#333333" stroke-width="1.2"/>
<text x="72.8" y="1048.87" text-anchor="end" font-size="10.8" fill="#4d4d4d">0.15</text>
<line x1="76" y1="1008.5" x2="79.5" y2="1008.5" stroke="#333333" stroke-width="1.2"/>
<text x="72.8" y="1012.37" text-anchor="end" font-size="10.8" fill="#4d4d4d">0.20</text>
<rect x="79.5" y="1170.25" width="239.25" height="21.25" fill="#ffffff" stroke="#222222" stroke-width="1.4"/>
<text x="199.12" y="1185.61" text-anchor="middle" font-size="12.4" fill="#262626">DALYs (Disability-Adjusted Life Years)</text>
<rect x="95.45" y="1242.5" width="97.9" height="116.25" fill="#ee6f1b"/>
<rect x="204.65" y="1261.25" width="97.9" height="97.5" fill="#b81c23"/>
<path d="M95.45 1200H193.35M95.45 1273H193.35M144.4 1200V1273M204.65 1229H302.55M204.65 1287.75H302.55M253.6 1229V1287.75" fill="none" stroke="#1a1a1a" stroke-width="1.5"/>
<line x1="79.5" y1="1191.5" x2="79.5" y2="1367.45" stroke="#333333" stroke-width="1.55"/>
<line x1="78.8" y1="1366.75" x2="318.75" y2="1366.75" stroke="#333333" stroke-width="1.55"/>
<line x1="76" y1="1358.75" x2="79.5" y2="1358.75" stroke="#333333" stroke-width="1.2"/>
<text x="72.8" y="1362.62" text-anchor="end" font-size="10.8" fill="#4d4d4d">0</text>
<line x1="76" y1="1302" x2="79.5" y2="1302" stroke="#333333" stroke-width="1.2"/>
<text x="72.8" y="1305.87" text-anchor="end" font-size="10.8" fill="#4d4d4d">2</text>
<line x1="76" y1="1245" x2="79.5" y2="1245" stroke="#333333" stroke-width="1.2"/>
<text x="72.8" y="1248.87" text-anchor="end" font-size="10.8" fill="#4d4d4d">4</text>
<line x1="144.4" y1="1366.75" x2="144.4" y2="1370.55" stroke="#333333" stroke-width="1.1"/>
<line x1="253.6" y1="1366.75" x2="253.6" y2="1370.55" stroke="#333333" stroke-width="1.1"/>
<text x="144.4" y="1381.17" text-anchor="middle" font-size="10.8" fill="#4d4d4d">Male</text>
<text x="253.6" y="1381.17" text-anchor="middle" font-size="10.8" fill="#4d4d4d">Female</text>
<text x="199.2" y="1397.33" text-anchor="middle" font-size="13.5" fill="#1a1a1a">Sex</text>
<text transform="translate(24 1177.5) rotate(-90)" y="4.83" text-anchor="middle" font-size="13.5" fill="#1a1a1a">Age-standardized rate</text>
<rect x="392.9" y="965.25" width="239.6" height="21.5" fill="#ffffff" stroke="#222222" stroke-width="1.4"/>
<text x="512.7" y="980.74" text-anchor="middle" font-size="12.4" fill="#262626">Deaths</text>
<rect x="409.05" y="1036" width="98.1" height="118.25" fill="#ee6f1b"/>
<rect x="518.35" y="1048.25" width="98.1" height="106" fill="#b81c23"/>
<path d="M409.05 995.5H507.15M409.05 1067.25H507.15M458.1 995.5V1067.25M518.35 1012.5H616.45M518.35 1078.25H616.45M567.4 1012.5V1078.25" fill="none" stroke="#1a1a1a" stroke-width="1.5"/>
<line x1="392.9" y1="986.75" x2="392.9" y2="1162" stroke="#333333" stroke-width="1.55"/>
<line x1="389.4" y1="1154.25" x2="392.9" y2="1154.25" stroke="#333333" stroke-width="1.2"/>
<text x="386.2" y="1158.12" text-anchor="end" font-size="10.8" fill="#4d4d4d">0</text>
<line x1="389.4" y1="1116.6" x2="392.9" y2="1116.6" stroke="#333333" stroke-width="1.2"/>
<text x="386.2" y="1120.47" text-anchor="end" font-size="10.8" fill="#4d4d4d">2000</text>
<line x1="389.4" y1="1079" x2="392.9" y2="1079" stroke="#333333" stroke-width="1.2"/>
<text x="386.2" y="1082.87" text-anchor="end" font-size="10.8" fill="#4d4d4d">4000</text>
<line x1="389.4" y1="1041.3" x2="392.9" y2="1041.3" stroke="#333333" stroke-width="1.2"/>
<text x="386.2" y="1045.17" text-anchor="end" font-size="10.8" fill="#4d4d4d">6000</text>
<line x1="389.4" y1="1003.5" x2="392.9" y2="1003.5" stroke="#333333" stroke-width="1.2"/>
<text x="386.2" y="1007.37" text-anchor="end" font-size="10.8" fill="#4d4d4d">8000</text>
<rect x="392.9" y="1170.25" width="239.6" height="21.25" fill="#ffffff" stroke="#222222" stroke-width="1.4"/>
<text x="512.7" y="1185.61" text-anchor="middle" font-size="12.4" fill="#262626">DALYs (Disability-Adjusted Life Years)</text>
<rect x="409.05" y="1243" width="98.1" height="115.75" fill="#ee6f1b"/>
<rect x="518.35" y="1253" width="98.1" height="105.75" fill="#b81c23"/>
<path d="M409.05 1199.75H507.15M409.05 1273.5H507.15M458.1 1199.75V1273.5M518.35 1218.25H616.45M518.35 1282H616.45M567.4 1218.25V1282" fill="none" stroke="#1a1a1a" stroke-width="1.5"/>
<line x1="392.9" y1="1191.5" x2="392.9" y2="1367.3" stroke="#333333" stroke-width="1.55"/>
<line x1="392.2" y1="1366.6" x2="632.5" y2="1366.6" stroke="#333333" stroke-width="1.55"/>
<line x1="389.4" y1="1358.75" x2="392.9" y2="1358.75" stroke="#333333" stroke-width="1.2"/>
<text x="386.2" y="1362.62" text-anchor="end" font-size="10.8" fill="#4d4d4d">0</text>
<line x1="389.4" y1="1324" x2="392.9" y2="1324" stroke="#333333" stroke-width="1.2"/>
<text x="386.2" y="1327.87" text-anchor="end" font-size="10.8" fill="#4d4d4d">50000</text>
<line x1="389.4" y1="1289.3" x2="392.9" y2="1289.3" stroke="#333333" stroke-width="1.2"/>
<text x="386.2" y="1293.17" text-anchor="end" font-size="10.8" fill="#4d4d4d">100000</text>
<line x1="389.4" y1="1254.65" x2="392.9" y2="1254.65" stroke="#333333" stroke-width="1.2"/>
<text x="386.2" y="1258.52" text-anchor="end" font-size="10.8" fill="#4d4d4d">150000</text>
<line x1="389.4" y1="1220" x2="392.9" y2="1220" stroke="#333333" stroke-width="1.2"/>
<text x="386.2" y="1223.87" text-anchor="end" font-size="10.8" fill="#4d4d4d">200000</text>
<line x1="458.1" y1="1366.6" x2="458.1" y2="1370.4" stroke="#333333" stroke-width="1.1"/>
<line x1="567.4" y1="1366.6" x2="567.4" y2="1370.4" stroke="#333333" stroke-width="1.1"/>
<text x="458.1" y="1381.17" text-anchor="middle" font-size="10.8" fill="#4d4d4d">Male</text>
<text x="567.4" y="1381.17" text-anchor="middle" font-size="10.8" fill="#4d4d4d">Female</text>
<text x="512.7" y="1397.33" text-anchor="middle" font-size="13.5" fill="#1a1a1a">Sex</text>
<text transform="translate(337.8 1177) rotate(-90)" y="4.83" text-anchor="middle" font-size="13.5" fill="#1a1a1a">Number of cases</text>
<text x="46.3" y="930.8" font-size="26.5" font-weight="bold" font-family="Liberation Serif, serif" fill="#111">C</text>
<rect x="872.5" y="965.25" width="245.75" height="21.5" fill="#ffffff" stroke="#222222" stroke-width="1.4"/>
<text x="995.38" y="980.74" text-anchor="middle" font-size="12.4" fill="#262626">Deaths</text>
<rect x="879.45" y="1022" width="42.3" height="105.25" fill="#ee6f1b"/>
<rect x="926.75" y="1067.25" width="42.3" height="60" fill="#b81c23"/>
<rect x="974.2" y="1088.5" width="42.3" height="38.75" fill="#1a8a9a"/>
<rect x="1021.5" y="1095.25" width="42.3" height="32" fill="#7d3b8c"/>
<rect x="1068.95" y="1111.5" width="42.3" height="15.75" fill="#5b8c8c"/>
<path d="M879.45 994H921.75M879.45 1049.5H921.75M900.6 994V1049.5M926.75 1048H969.05M926.75 1083.5H969.05M947.9 1048V1083.5M974.2 1073H1016.5M974.2 1098.5H1016.5M995.35 1073V1098.5M1021.5 1080H1063.8M1021.5 1104.5H1063.8M1042.65 1080V1104.5M1068.95 1103H1111.25M1068.95 1117.5H1111.25M1090.1 1103V1117.5" fill="none" stroke="#1a1a1a" stroke-width="1.7"/>
<line x1="872.5" y1="986.75" x2="872.5" y2="1134.25" stroke="#333333" stroke-width="1.55"/>
<line x1="869" y1="1127.25" x2="872.5" y2="1127.25" stroke="#333333" stroke-width="1.2"/>
<text x="865.8" y="1131.12" text-anchor="end" font-size="10.8" fill="#4d4d4d">0.0</text>
<line x1="869" y1="1085.3" x2="872.5" y2="1085.3" stroke="#333333" stroke-width="1.2"/>
<text x="865.8" y="1089.17" text-anchor="end" font-size="10.8" fill="#4d4d4d">0.1</text>
<line x1="869" y1="1043.4" x2="872.5" y2="1043.4" stroke="#333333" stroke-width="1.2"/>
<text x="865.8" y="1047.27" text-anchor="end" font-size="10.8" fill="#4d4d4d">0.2</text>
<line x1="869" y1="1001.5" x2="872.5" y2="1001.5" stroke="#333333" stroke-width="1.2"/>
<text x="865.8" y="1005.37" text-anchor="end" font-size="10.8" fill="#4d4d4d">0.3</text>
<rect x="872.5" y="1142" width="245.75" height="21.5" fill="#ffffff" stroke="#222222" stroke-width="1.4"/>
<text x="995.38" y="1157.49" text-anchor="middle" font-size="12.4" fill="#262626">DALYs (Disability-Adjusted Life Years)</text>
<rect x="879.45" y="1198" width="42.3" height="105.75" fill="#ee6f1b"/>
<rect x="926.75" y="1233.5" width="42.3" height="70.25" fill="#b81c23"/>
<rect x="974.2" y="1252.75" width="42.3" height="51" fill="#1a8a9a"/>
<rect x="1021.5" y="1262" width="42.3" height="41.75" fill="#7d3b8c"/>
<rect x="1068.95" y="1282" width="42.3" height="21.75" fill="#5b8c8c"/>
<path d="M879.45 1170.25H921.75M879.45 1225H921.75M900.6 1170.25V1225M926.75 1210.5H969.05M926.75 1252.25H969.05M947.9 1210.5V1252.25M974.2 1233.75H1016.5M974.2 1265.5H1016.5M995.35 1233.75V1265.5M1021.5 1243H1063.8M1021.5 1274.5H1063.8M1042.65 1243V1274.5M1068.95 1271.25H1111.25M1068.95 1290.75H1111.25M1090.1 1271.25V1290.75" fill="none" stroke="#1a1a1a" stroke-width="1.7"/>
<line x1="872.5" y1="1163.5" x2="872.5" y2="1311.2" stroke="#333333" stroke-width="1.55"/>
<line x1="871.8" y1="1310.5" x2="1118.25" y2="1310.5" stroke="#333333" stroke-width="1.55"/>
<line x1="869" y1="1303.75" x2="872.5" y2="1303.75" stroke="#333333" stroke-width="1.2"/>
<text x="865.8" y="1307.62" text-anchor="end" font-size="10.8" fill="#4d4d4d">0</text>
<line x1="869" y1="1269.4" x2="872.5" y2="1269.4" stroke="#333333" stroke-width="1.2"/>
<text x="865.8" y="1273.27" text-anchor="end" font-size="10.8" fill="#4d4d4d">2</text>
<line x1="869" y1="1235" x2="872.5" y2="1235" stroke="#333333" stroke-width="1.2"/>
<text x="865.8" y="1238.87" text-anchor="end" font-size="10.8" fill="#4d4d4d">4</text>
<line x1="869" y1="1200.6" x2="872.5" y2="1200.6" stroke="#333333" stroke-width="1.2"/>
<text x="865.8" y="1204.47" text-anchor="end" font-size="10.8" fill="#4d4d4d">6</text>
<line x1="869" y1="1166.25" x2="872.5" y2="1166.25" stroke="#333333" stroke-width="1.2"/>
<text x="865.8" y="1170.12" text-anchor="end" font-size="10.8" fill="#4d4d4d">8</text>
<line x1="900.6" y1="1310.5" x2="900.6" y2="1314.3" stroke="#333333" stroke-width="1.1"/>
<line x1="947.9" y1="1310.5" x2="947.9" y2="1314.3" stroke="#333333" stroke-width="1.1"/>
<line x1="995.35" y1="1310.5" x2="995.35" y2="1314.3" stroke="#333333" stroke-width="1.1"/>
<line x1="1042.65" y1="1310.5" x2="1042.65" y2="1314.3" stroke="#333333" stroke-width="1.1"/>
<line x1="1090.1" y1="1310.5" x2="1090.1" y2="1314.3" stroke="#333333" stroke-width="1.1"/>
<text transform="translate(905.9 1323.2) rotate(-45)" text-anchor="end" font-size="10.8" fill="#4d4d4d">High SDI</text>
<text transform="translate(953.2 1323.2) rotate(-45)" text-anchor="end" font-size="10.8" fill="#4d4d4d">High-middle SDI</text>
<text transform="translate(1000.65 1323.2) rotate(-45)" text-anchor="end" font-size="10.8" fill="#4d4d4d">Middle SDI</text>
<text transform="translate(1047.95 1323.2) rotate(-45)" text-anchor="end" font-size="10.8" fill="#4d4d4d">Low-middle SDI</text>
<text transform="translate(1095.4 1323.2) rotate(-45)" text-anchor="end" font-size="10.8" fill="#4d4d4d">Low SDI</text>
<text x="995" y="1397.33" text-anchor="middle" font-size="13.5" fill="#1a1a1a">SDI</text>
<text transform="translate(823 1150) rotate(-90)" y="4.83" text-anchor="middle" font-size="13.5" fill="#1a1a1a">Age-standardized rate</text>
<rect x="1186" y="965.25" width="246" height="21.5" fill="#ffffff" stroke="#222222" stroke-width="1.4"/>
<text x="1309" y="980.74" text-anchor="middle" font-size="12.4" fill="#262626">Deaths</text>
<rect x="1193.1" y="1023" width="42.3" height="104.25" fill="#ee6f1b"/>
<rect x="1240.45" y="1073.25" width="42.3" height="54" fill="#b81c23"/>
<rect x="1287.85" y="1077.75" width="42.3" height="49.5" fill="#1a8a9a"/>
<rect x="1335.25" y="1104" width="42.3" height="23.25" fill="#7d3b8c"/>
<rect x="1382.6" y="1123.75" width="42.3" height="3.5" fill="#5b8c8c"/>
<path d="M1193.1 994H1235.4M1193.1 1050H1235.4M1214.25 994V1050M1240.45 1055.75H1282.75M1240.45 1087.5H1282.75M1261.6 1055.75V1087.5M1287.85 1058.25H1330.15M1287.85 1090.5H1330.15M1309 1058.25V1090.5M1335.25 1092.75H1377.55M1335.25 1110.75H1377.55M1356.4 1092.75V1110.75M1382.6 1120H1424.9M1382.6 1125H1424.9M1403.75 1120V1125" fill="none" stroke="#1a1a1a" stroke-width="1.7"/>
<line x1="1186" y1="986.75" x2="1186" y2="1134.25" stroke="#333333" stroke-width="1.55"/>
<line x1="1182.5" y1="1127.25" x2="1186" y2="1127.25" stroke="#333333" stroke-width="1.2"/>
<text x="1179.3" y="1131.12" text-anchor="end" font-size="10.8" fill="#4d4d4d">0</text>
<line x1="1182.5" y1="1087.45" x2="1186" y2="1087.45" stroke="#333333" stroke-width="1.2"/>
<text x="1179.3" y="1091.32" text-anchor="end" font-size="10.8" fill="#4d4d4d">2000</text>
<line x1="1182.5" y1="1047.6" x2="1186" y2="1047.6" stroke="#333333" stroke-width="1.2"/>
<text x="1179.3" y="1051.47" text-anchor="end" font-size="10.8" fill="#4d4d4d">4000</text>
<line x1="1182.5" y1="1007.75" x2="1186" y2="1007.75" stroke="#333333" stroke-width="1.2"/>
<text x="1179.3" y="1011.62" text-anchor="end" font-size="10.8" fill="#4d4d4d">6000</text>
<rect x="1186" y="1142" width="246" height="21.5" fill="#ffffff" stroke="#222222" stroke-width="1.4"/>
<text x="1309" y="1157.49" text-anchor="middle" font-size="12.4" fill="#262626">DALYs (Disability-Adjusted Life Years)</text>
<rect x="1193.1" y="1198.25" width="42.3" height="105.5" fill="#ee6f1b"/>
<rect x="1240.45" y="1235" width="42.3" height="68.75" fill="#b81c23"/>
<rect x="1287.85" y="1227.25" width="42.3" height="76.5" fill="#1a8a9a"/>
<rect x="1335.25" y="1264.5" width="42.3" height="39.25" fill="#7d3b8c"/>
<rect x="1382.6" y="1295.5" width="42.3" height="8.25" fill="#5b8c8c"/>
<path d="M1193.1 1170.5H1235.4M1193.1 1225.25H1235.4M1214.25 1170.5V1225.25M1240.45 1212.5H1282.75M1240.45 1253.5H1282.75M1261.6 1212.5V1253.5M1287.85 1199H1330.15M1287.85 1246.75H1330.15M1309 1199V1246.75M1335.25 1248H1377.55M1335.25 1276.5H1377.55M1356.4 1248V1276.5M1382.6 1290.75H1424.9M1382.6 1298.75H1424.9M1403.75 1290.75V1298.75" fill="none" stroke="#1a1a1a" stroke-width="1.7"/>
<line x1="1186" y1="1163.5" x2="1186" y2="1311.2" stroke="#333333" stroke-width="1.55"/>
<line x1="1185.3" y1="1310.5" x2="1432" y2="1310.5" stroke="#333333" stroke-width="1.55"/>
<line x1="1182.5" y1="1303.75" x2="1186" y2="1303.75" stroke="#333333" stroke-width="1.2"/>
<text x="1179.3" y="1307.62" text-anchor="end" font-size="10.8" fill="#4d4d4d">0e+00</text>
<line x1="1182.5" y1="1257.1" x2="1186" y2="1257.1" stroke="#333333" stroke-width="1.2"/>
<text x="1179.3" y="1260.97" text-anchor="end" font-size="10.8" fill="#4d4d4d">5e+04</text>
<line x1="1182.5" y1="1210.5" x2="1186" y2="1210.5" stroke="#333333" stroke-width="1.2"/>
<text x="1179.3" y="1214.37" text-anchor="end" font-size="10.8" fill="#4d4d4d">1e+05</text>
<line x1="1214.25" y1="1310.5" x2="1214.25" y2="1314.3" stroke="#333333" stroke-width="1.1"/>
<line x1="1261.6" y1="1310.5" x2="1261.6" y2="1314.3" stroke="#333333" stroke-width="1.1"/>
<line x1="1309" y1="1310.5" x2="1309" y2="1314.3" stroke="#333333" stroke-width="1.1"/>
<line x1="1356.4" y1="1310.5" x2="1356.4" y2="1314.3" stroke="#333333" stroke-width="1.1"/>
<line x1="1403.75" y1="1310.5" x2="1403.75" y2="1314.3" stroke="#333333" stroke-width="1.1"/>
<text transform="translate(1219.55 1323.2) rotate(-45)" text-anchor="end" font-size="10.8" fill="#4d4d4d">High SDI</text>
<text transform="translate(1266.9 1323.2) rotate(-45)" text-anchor="end" font-size="10.8" fill="#4d4d4d">High-middle SDI</text>
<text transform="translate(1314.3 1323.2) rotate(-45)" text-anchor="end" font-size="10.8" fill="#4d4d4d">Middle SDI</text>
<text transform="translate(1361.7 1323.2) rotate(-45)" text-anchor="end" font-size="10.8" fill="#4d4d4d">Low-middle SDI</text>
<text transform="translate(1409.05 1323.2) rotate(-45)" text-anchor="end" font-size="10.8" fill="#4d4d4d">Low SDI</text>
<text x="1309" y="1397.33" text-anchor="middle" font-size="13.5" fill="#1a1a1a">SDI</text>
<text transform="translate(1136.5 1148.5) rotate(-90)" y="4.83" text-anchor="middle" font-size="13.5" fill="#1a1a1a">Number of cases</text>
<text x="829" y="930.5" font-size="26.5" font-weight="bold" font-family="Liberation Serif, serif" fill="#111">D</text>
<rect x="103.75" y="1492" width="245.75" height="21.25" fill="#ffffff" stroke="#222222" stroke-width="1.4"/>
<text x="226.62" y="1507.36" text-anchor="middle" font-size="12.4" fill="#262626">Deaths</text>
<rect x="106.03" y="1662.5" width="13.65" height="1.5" fill="#3f3f3f"/>
<rect x="121.2" y="1662" width="13.65" height="2" fill="#2a5558"/>
<rect x="136.36" y="1661.5" width="13.65" height="2.5" fill="#2b6f6f"/>
<rect x="151.53" y="1660.5" width="13.65" height="3.5" fill="#85b8ab"/>
<rect x="166.7" y="1659.5" width="13.65" height="4.5" fill="#8aa898"/>
<rect x="181.87" y="1658.5" width="13.65" height="5.5" fill="#4a4f38"/>
<rect x="197.04" y="1656.75" width="13.65" height="7.25" fill="#8c5a60"/>
<rect x="212.21" y="1653" width="13.65" height="11" fill="#ee85a0"/>
<rect x="227.38" y="1645" width="13.65" height="19" fill="#b5b8cc"/>
<rect x="242.55" y="1635.75" width="13.65" height="28.25" fill="#9bbcc0"/>
<rect x="257.72" y="1620.75" width="13.65" height="43.25" fill="#e9685a"/>
<rect x="272.89" y="1604.25" width="13.65" height="59.75" fill="#c87060"/>
<rect x="288.06" y="1593.25" width="13.65" height="70.75" fill="#5a8f95"/>
<rect x="303.23" y="1572.5" width="13.65" height="91.5" fill="#6d5fa0"/>
<rect x="318.4" y="1558.25" width="13.65" height="105.75" fill="#7d3f9e"/>
<rect x="333.57" y="1563.25" width="13.65" height="100.75" fill="#2878a8"/>
<path d="M106.37 1661.5H119.34M106.37 1663H119.34M112.85 1661.5V1663M121.54 1661H134.51M121.54 1662.75H134.51M128.02 1661V1662.75M136.71 1660.5H149.68M136.71 1662.5H149.68M143.19 1660.5V1662.5M151.88 1659.25H164.85M151.88 1661.75H164.85M158.36 1659.25V1661.75M167.05 1657.5H180.02M167.05 1661H180.02M173.53 1657.5V1661M182.22 1656H195.19M182.22 1660H195.19M188.7 1656V1660M197.39 1653.25H210.36M197.39 1658.5H210.36M203.87 1653.25V1658.5M212.56 1647.5H225.53M212.56 1655.5H225.53M219.04 1647.5V1655.5M227.72 1639.25H240.69M227.72 1649.25H240.69M234.21 1639.25V1649.25M242.89 1627H255.86M242.89 1642.5H255.86M249.38 1627V1642.5M258.06 1607.75H271.03M258.06 1631.75H271.03M264.55 1607.75V1631.75M273.23 1585.75H286.2M273.23 1620H286.2M279.72 1585.75V1620M288.4 1570H301.37M288.4 1614.5H301.37M294.89 1570V1614.5M303.57 1541.5H316.54M303.57 1603H316.54M310.06 1541.5V1603M318.74 1520.75H331.71M318.74 1595.5H331.71M325.23 1520.75V1595.5M333.91 1524.5H346.88M333.91 1600.75H346.88M340.4 1524.5V1600.75" fill="none" stroke="#1a1a1a" stroke-width="1.6"/>
<line x1="103.75" y1="1513.25" x2="103.75" y2="1670.5" stroke="#333333" stroke-width="1.55"/>
<line x1="100.25" y1="1664" x2="103.75" y2="1664" stroke="#333333" stroke-width="1.2"/>
<text x="97.05" y="1667.87" text-anchor="end" font-size="10.8" fill="#4d4d4d">0</text>
<line x1="100.25" y1="1611.6" x2="103.75" y2="1611.6" stroke="#333333" stroke-width="1.2"/>
<text x="97.05" y="1615.47" text-anchor="end" font-size="10.8" fill="#4d4d4d">1</text>
<line x1="100.25" y1="1559.25" x2="103.75" y2="1559.25" stroke="#333333" stroke-width="1.2"/>
<text x="97.05" y="1563.12" text-anchor="end" font-size="10.8" fill="#4d4d4d">2</text>
<rect x="103.75" y="1678.75" width="245.75" height="21.25" fill="#ffffff" stroke="#222222" stroke-width="1.4"/>
<text x="226.62" y="1694.11" text-anchor="middle" font-size="12.4" fill="#262626">DALYs (Disability-Adjusted Life Years)</text>
<rect x="106.03" y="1840" width="13.65" height="11.25" fill="#3f3f3f"/>
<rect x="121.2" y="1836.5" width="13.65" height="14.75" fill="#2a5558"/>
<rect x="136.36" y="1835" width="13.65" height="16.25" fill="#2b6f6f"/>
<rect x="151.53" y="1831.25" width="13.65" height="20" fill="#85b8ab"/>
<rect x="166.7" y="1826.5" width="13.65" height="24.75" fill="#8aa898"/>
<rect x="181.87" y="1823" width="13.65" height="28.25" fill="#4a4f38"/>
<rect x="197.04" y="1816.75" width="13.65" height="34.5" fill="#8c5a60"/>
<rect x="212.21" y="1804.5" width="13.65" height="46.75" fill="#ee85a0"/>
<rect x="227.38" y="1788.5" width="13.65" height="62.75" fill="#b5b8cc"/>
<rect x="242.55" y="1773.25" width="13.65" height="78" fill="#9bbcc0"/>
<rect x="257.72" y="1751.5" width="13.65" height="99.75" fill="#e9685a"/>
<rect x="272.89" y="1740.75" width="13.65" height="110.5" fill="#c87060"/>
<rect x="288.06" y="1748.75" width="13.65" height="102.5" fill="#5a8f95"/>
<rect x="303.23" y="1746.25" width="13.65" height="105" fill="#6d5fa0"/>
<rect x="318.4" y="1745.5" width="13.65" height="105.75" fill="#7d3f9e"/>
<rect x="333.57" y="1756.75" width="13.65" height="94.5" fill="#2878a8"/>
<path d="M106.37 1835H119.34M106.37 1843H119.34M112.85 1835V1843M121.54 1830.5H134.51M121.54 1840H134.51M128.02 1830.5V1840M136.71 1828.25H149.68M136.71 1838.75H149.68M143.19 1828.25V1838.75M151.88 1824H164.85M151.88 1836H164.85M158.36 1824V1836M167.05 1818H180.02M167.05 1832.5H180.02M173.53 1818V1832.5M182.22 1812.75H195.19M182.22 1830.25H195.19M188.7 1812.75V1830.25M197.39 1804.5H210.36M197.39 1825H210.36M203.87 1804.5V1825M212.56 1789.25H225.53M212.56 1816H225.53M219.04 1789.25V1816M227.72 1769.25H240.69M227.72 1804.25H240.69M234.21 1769.25V1804.25M242.89 1748.25H255.86M242.89 1793.5H255.86M249.38 1748.25V1793.5M258.06 1722.25H271.03M258.06 1777H271.03M264.55 1722.25V1777M273.23 1708H286.2M273.23 1770.75H286.2M279.72 1708V1770.75M288.4 1715.75H301.37M288.4 1780H301.37M294.89 1715.75V1780M303.57 1710.25H316.54M303.57 1781.75H316.54M310.06 1710.25V1781.75M318.74 1707.75H331.71M318.74 1783H331.71M325.23 1707.75V1783M333.91 1721.25H346.88M333.91 1792H346.88M340.4 1721.25V1792" fill="none" stroke="#1a1a1a" stroke-width="1.6"/>
<line x1="103.75" y1="1700" x2="103.75" y2="1858.7" stroke="#333333" stroke-width="1.55"/>
<line x1="103.05" y1="1858" x2="349.5" y2="1858" stroke="#333333" stroke-width="1.55"/>
<line x1="100.25" y1="1851.25" x2="103.75" y2="1851.25" stroke="#333333" stroke-width="1.2"/>
<text x="97.05" y="1855.12" text-anchor="end" font-size="10.8" fill="#4d4d4d">0</text>
<line x1="100.25" y1="1821.5" x2="103.75" y2="1821.5" stroke="#333333" stroke-width="1.2"/>
<text x="97.05" y="1825.37" text-anchor="end" font-size="10.8" fill="#4d4d4d">5</text>
<line x1="100.25" y1="1791.75" x2="103.75" y2="1791.75" stroke="#333333" stroke-width="1.2"/>
<text x="97.05" y="1795.62" text-anchor="end" font-size="10.8" fill="#4d4d4d">10</text>
<line x1="100.25" y1="1762" x2="103.75" y2="1762" stroke="#333333" stroke-width="1.2"/>
<text x="97.05" y="1765.87" text-anchor="end" font-size="10.8" fill="#4d4d4d">15</text>
<line x1="100.25" y1="1732.25" x2="103.75" y2="1732.25" stroke="#333333" stroke-width="1.2"/>
<text x="97.05" y="1736.12" text-anchor="end" font-size="10.8" fill="#4d4d4d">20</text>
<line x1="100.25" y1="1702.5" x2="103.75" y2="1702.5" stroke="#333333" stroke-width="1.2"/>
<text x="97.05" y="1706.37" text-anchor="end" font-size="10.8" fill="#4d4d4d">25</text>
<line x1="112.85" y1="1858" x2="112.85" y2="1861.8" stroke="#333333" stroke-width="1.1"/>
<line x1="128.02" y1="1858" x2="128.02" y2="1861.8" stroke="#333333" stroke-width="1.1"/>
<line x1="143.19" y1="1858" x2="143.19" y2="1861.8" stroke="#333333" stroke-width="1.1"/>
<line x1="158.36" y1="1858" x2="158.36" y2="1861.8" stroke="#333333" stroke-width="1.1"/>
<line x1="173.53" y1="1858" x2="173.53" y2="1861.8" stroke="#333333" stroke-width="1.1"/>
<line x1="188.7" y1="1858" x2="188.7" y2="1861.8" stroke="#333333" stroke-width="1.1"/>
<line x1="203.87" y1="1858" x2="203.87" y2="1861.8" stroke="#333333" stroke-width="1.1"/>
<line x1="219.04" y1="1858" x2="219.04" y2="1861.8" stroke="#333333" stroke-width="1.1"/>
<line x1="234.21" y1="1858" x2="234.21" y2="1861.8" stroke="#333333" stroke-width="1.1"/>
<line x1="249.38" y1="1858" x2="249.38" y2="1861.8" stroke="#333333" stroke-width="1.1"/>
<line x1="264.55" y1="1858" x2="264.55" y2="1861.8" stroke="#333333" stroke-width="1.1"/>
<line x1="279.72" y1="1858" x2="279.72" y2="1861.8" stroke="#333333" stroke-width="1.1"/>
<line x1="294.89" y1="1858" x2="294.89" y2="1861.8" stroke="#333333" stroke-width="1.1"/>
<line x1="310.06" y1="1858" x2="310.06" y2="1861.8" stroke="#333333" stroke-width="1.1"/>
<line x1="325.23" y1="1858" x2="325.23" y2="1861.8" stroke="#333333" stroke-width="1.1"/>
<line x1="340.4" y1="1858" x2="340.4" y2="1861.8" stroke="#333333" stroke-width="1.1"/>
<text transform="translate(117.35 1870) rotate(-45)" text-anchor="end" font-size="9.35" fill="#4d4d4d">20-24 years</text>
<text transform="translate(132.52 1870) rotate(-45)" text-anchor="end" font-size="9.35" fill="#4d4d4d">25-29 years</text>
<text transform="translate(147.69 1870) rotate(-45)" text-anchor="end" font-size="9.35" fill="#4d4d4d">30-34 years</text>
<text transform="translate(162.86 1870) rotate(-45)" text-anchor="end" font-size="9.35" fill="#4d4d4d">35-39 years</text>
<text transform="translate(178.03 1870) rotate(-45)" text-anchor="end" font-size="9.35" fill="#4d4d4d">40-44 years</text>
<text transform="translate(193.2 1870) rotate(-45)" text-anchor="end" font-size="9.35" fill="#4d4d4d">45-49 years</text>
<text transform="translate(208.37 1870) rotate(-45)" text-anchor="end" font-size="9.35" fill="#4d4d4d">50-54 years</text>
<text transform="translate(223.54 1870) rotate(-45)" text-anchor="end" font-size="9.35" fill="#4d4d4d">55-59 years</text>
<text transform="translate(238.71 1870) rotate(-45)" text-anchor="end" font-size="9.35" fill="#4d4d4d">60-64 years</text>
<text transform="translate(253.88 1870) rotate(-45)" text-anchor="end" font-size="9.35" fill="#4d4d4d">65-69 years</text>
<text transform="translate(269.05 1870) rotate(-45)" text-anchor="end" font-size="9.35" fill="#4d4d4d">70-74 years</text>
<text transform="translate(284.22 1870) rotate(-45)" text-anchor="end" font-size="9.35" fill="#4d4d4d">75-79 years</text>
<text transform="translate(299.39 1870) rotate(-45)" text-anchor="end" font-size="9.35" fill="#4d4d4d">80-84 years</text>
<text transform="translate(314.56 1870) rotate(-45)" text-anchor="end" font-size="9.35" fill="#4d4d4d">85-89 years</text>
<text transform="translate(329.73 1870) rotate(-45)" text-anchor="end" font-size="9.35" fill="#4d4d4d">90-94 years</text>
<text transform="translate(344.9 1870) rotate(-45)" text-anchor="end" font-size="9.35" fill="#4d4d4d">95+ years</text>
<text x="226.3" y="1923.63" text-anchor="middle" font-size="13.5" fill="#1a1a1a">Age</text>
<text transform="translate(56.5 1686) rotate(-90)" y="4.83" text-anchor="middle" font-size="13.5" fill="#1a1a1a">Age-standardized rate</text>
<rect x="417.5" y="1492" width="246" height="21.25" fill="#ffffff" stroke="#222222" stroke-width="1.4"/>
<text x="540.5" y="1507.36" text-anchor="middle" font-size="12.4" fill="#262626">Deaths</text>
<rect x="419.78" y="1653.75" width="13.67" height="10.25" fill="#3f3f3f"/>
<rect x="434.96" y="1649" width="13.67" height="15" fill="#2a5558"/>
<rect x="450.15" y="1645" width="13.67" height="19" fill="#2b6f6f"/>
<rect x="465.33" y="1641" width="13.67" height="23" fill="#85b8ab"/>
<rect x="480.52" y="1635.75" width="13.67" height="28.25" fill="#8aa898"/>
<rect x="495.7" y="1630.75" width="13.67" height="33.25" fill="#4a4f38"/>
<rect x="510.89" y="1620.25" width="13.67" height="43.75" fill="#8c5a60"/>
<rect x="526.07" y="1604.75" width="13.67" height="59.25" fill="#ee85a0"/>
<rect x="541.26" y="1588.75" width="13.67" height="75.25" fill="#b5b8cc"/>
<rect x="556.44" y="1568.5" width="13.67" height="95.5" fill="#9bbcc0"/>
<rect x="571.63" y="1553.75" width="13.67" height="110.25" fill="#e9685a"/>
<rect x="586.81" y="1566" width="13.67" height="98" fill="#c87060"/>
<rect x="602" y="1587" width="13.67" height="77" fill="#5a8f95"/>
<rect x="617.19" y="1612.75" width="13.67" height="51.25" fill="#6d5fa0"/>
<rect x="632.37" y="1641.25" width="13.67" height="22.75" fill="#7d3f9e"/>
<rect x="647.56" y="1658" width="13.67" height="6" fill="#2878a8"/>
<path d="M420.12 1649H433.1M420.12 1655.5H433.1M426.61 1649V1655.5M435.3 1643H448.29M435.3 1651.75H448.29M441.8 1643V1651.75M450.49 1638H463.47M450.49 1649H463.47M456.98 1638V1649M465.68 1633H478.66M465.68 1646.25H478.66M472.17 1633V1646.25M480.86 1626.75H493.84M480.86 1642.5H493.84M487.35 1626.75V1642.5M496.05 1618.5H509.03M496.05 1639.5H509.03M502.54 1618.5V1639.5M511.23 1605.25H524.21M511.23 1631.25H524.21M517.72 1605.25V1631.25M526.42 1585H539.4M526.42 1619.5H539.4M532.91 1585V1619.5M541.6 1566H554.58M541.6 1607.75H554.58M548.09 1566V1607.75M556.79 1538H569.77M556.79 1593.25H569.77M563.28 1538V1593.25M571.97 1521H584.95M571.97 1581.5H584.95M578.46 1521V1581.5M587.16 1536.75H600.14M587.16 1592.5H600.14M593.65 1536.75V1592.5M602.34 1562.5H615.32M602.34 1610.5H615.32M608.83 1562.5V1610.5M617.53 1594.25H630.51M617.53 1629.25H630.51M624.02 1594.25V1629.25M632.71 1632.25H645.7M632.71 1648.5H645.7M639.2 1632.25V1648.5M647.9 1654.75H660.88M647.9 1660H660.88M654.39 1654.75V1660" fill="none" stroke="#1a1a1a" stroke-width="1.6"/>
<line x1="417.5" y1="1513.25" x2="417.5" y2="1670.5" stroke="#333333" stroke-width="1.55"/>
<line x1="414" y1="1664" x2="417.5" y2="1664" stroke="#333333" stroke-width="1.2"/>
<text x="410.8" y="1667.87" text-anchor="end" font-size="10.8" fill="#4d4d4d">0</text>
<line x1="414" y1="1631.62" x2="417.5" y2="1631.62" stroke="#333333" stroke-width="1.2"/>
<text x="410.8" y="1635.49" text-anchor="end" font-size="10.8" fill="#4d4d4d">500</text>
<line x1="414" y1="1599.25" x2="417.5" y2="1599.25" stroke="#333333" stroke-width="1.2"/>
<text x="410.8" y="1603.12" text-anchor="end" font-size="10.8" fill="#4d4d4d">1000</text>
<line x1="414" y1="1566.88" x2="417.5" y2="1566.88" stroke="#333333" stroke-width="1.2"/>
<text x="410.8" y="1570.74" text-anchor="end" font-size="10.8" fill="#4d4d4d">1500</text>
<line x1="414" y1="1534.5" x2="417.5" y2="1534.5" stroke="#333333" stroke-width="1.2"/>
<text x="410.8" y="1538.37" text-anchor="end" font-size="10.8" fill="#4d4d4d">2000</text>
<rect x="417.5" y="1678.75" width="246" height="21.25" fill="#ffffff" stroke="#222222" stroke-width="1.4"/>
<text x="540.5" y="1694.11" text-anchor="middle" font-size="12.4" fill="#262626">DALYs (Disability-Adjusted Life Years)</text>
<rect x="419.78" y="1815.75" width="13.67" height="35.25" fill="#3f3f3f"/>
<rect x="434.96" y="1807.25" width="13.67" height="43.75" fill="#2a5558"/>
<rect x="450.15" y="1799.75" width="13.67" height="51.25" fill="#2b6f6f"/>
<rect x="465.33" y="1793.5" width="13.67" height="57.5" fill="#85b8ab"/>
<rect x="480.52" y="1788.5" width="13.67" height="62.5" fill="#8aa898"/>
<rect x="495.7" y="1783.25" width="13.67" height="67.75" fill="#4a4f38"/>
<rect x="510.89" y="1773" width="13.67" height="78" fill="#8c5a60"/>
<rect x="526.07" y="1757.5" width="13.67" height="93.5" fill="#ee85a0"/>
<rect x="541.26" y="1749.25" width="13.67" height="101.75" fill="#b5b8cc"/>
<rect x="556.44" y="1742" width="13.67" height="109" fill="#9bbcc0"/>
<rect x="571.63" y="1747.5" width="13.67" height="103.5" fill="#e9685a"/>
<rect x="586.81" y="1777.5" width="13.67" height="73.5" fill="#c87060"/>
<rect x="602" y="1806" width="13.67" height="45" fill="#5a8f95"/>
<rect x="617.19" y="1827.25" width="13.67" height="23.75" fill="#6d5fa0"/>
<rect x="632.37" y="1842" width="13.67" height="9" fill="#7d3f9e"/>
<rect x="647.56" y="1847.5" width="13.67" height="3.5" fill="#2878a8"/>
<path d="M420.12 1802.75H433.1M420.12 1824.25H433.1M426.61 1802.75V1824.25M435.3 1790.25H448.29M435.3 1818.5H448.29M441.8 1790.25V1818.5M450.49 1781.75H463.47M450.49 1813H463.47M456.98 1781.75V1813M465.68 1774.5H478.66M465.68 1808.25H478.66M472.17 1774.5V1808.25M480.86 1768H493.84M480.86 1804.25H493.84M487.35 1768V1804.25M496.05 1759.75H509.03M496.05 1801.25H509.03M502.54 1759.75V1801.25M511.23 1746.5H524.21M511.23 1792.5H524.21M517.72 1746.5V1792.5M526.42 1727.25H539.4M526.42 1781H539.4M532.91 1727.25V1781M541.6 1718.75H554.58M541.6 1775.25H554.58M548.09 1718.75V1775.25M556.79 1707.75H569.77M556.79 1770H569.77M563.28 1707.75V1770M571.97 1717.25H584.95M571.97 1773.75H584.95M578.46 1717.25V1773.75M587.16 1755.25H600.14M587.16 1797.25H600.14M593.65 1755.25V1797.25M602.34 1791H615.32M602.34 1819.25H615.32M608.83 1791V1819.25M617.53 1818.5H630.51M617.53 1834.5H630.51M624.02 1818.5V1834.5M632.71 1838H645.7M632.71 1845.25H645.7M639.2 1838V1845.25M647.9 1846.88H660.88M647.9 1848.38H660.88M654.39 1846.88V1848.38" fill="none" stroke="#1a1a1a" stroke-width="1.6"/>
<line x1="417.5" y1="1700" x2="417.5" y2="1858.7" stroke="#333333" stroke-width="1.55"/>
<line x1="416.8" y1="1858" x2="663.5" y2="1858" stroke="#333333" stroke-width="1.55"/>
<line x1="414" y1="1851" x2="417.5" y2="1851" stroke="#333333" stroke-width="1.2"/>
<text x="410.8" y="1854.87" text-anchor="end" font-size="10.8" fill="#4d4d4d">0</text>
<line x1="414" y1="1820.94" x2="417.5" y2="1820.94" stroke="#333333" stroke-width="1.2"/>
<text x="410.8" y="1824.81" text-anchor="end" font-size="10.8" fill="#4d4d4d">10000</text>
<line x1="414" y1="1790.88" x2="417.5" y2="1790.88" stroke="#333333" stroke-width="1.2"/>
<text x="410.8" y="1794.75" text-anchor="end" font-size="10.8" fill="#4d4d4d">20000</text>
<line x1="414" y1="1760.82" x2="417.5" y2="1760.82" stroke="#333333" stroke-width="1.2"/>
<text x="410.8" y="1764.69" text-anchor="end" font-size="10.8" fill="#4d4d4d">30000</text>
<line x1="414" y1="1730.76" x2="417.5" y2="1730.76" stroke="#333333" stroke-width="1.2"/>
<text x="410.8" y="1734.63" text-anchor="end" font-size="10.8" fill="#4d4d4d">40000</text>
<line x1="426.61" y1="1858" x2="426.61" y2="1861.8" stroke="#333333" stroke-width="1.1"/>
<line x1="441.8" y1="1858" x2="441.8" y2="1861.8" stroke="#333333" stroke-width="1.1"/>
<line x1="456.98" y1="1858" x2="456.98" y2="1861.8" stroke="#333333" stroke-width="1.1"/>
<line x1="472.17" y1="1858" x2="472.17" y2="1861.8" stroke="#333333" stroke-width="1.1"/>
<line x1="487.35" y1="1858" x2="487.35" y2="1861.8" stroke="#333333" stroke-width="1.1"/>
<line x1="502.54" y1="1858" x2="502.54" y2="1861.8" stroke="#333333" stroke-width="1.1"/>
<line x1="517.72" y1="1858" x2="517.72" y2="1861.8" stroke="#333333" stroke-width="1.1"/>
<line x1="532.91" y1="1858" x2="532.91" y2="1861.8" stroke="#333333" stroke-width="1.1"/>
<line x1="548.09" y1="1858" x2="548.09" y2="1861.8" stroke="#333333" stroke-width="1.1"/>
<line x1="563.28" y1="1858" x2="563.28" y2="1861.8" stroke="#333333" stroke-width="1.1"/>
<line x1="578.46" y1="1858" x2="578.46" y2="1861.8" stroke="#333333" stroke-width="1.1"/>
<line x1="593.65" y1="1858" x2="593.65" y2="1861.8" stroke="#333333" stroke-width="1.1"/>
<line x1="608.83" y1="1858" x2="608.83" y2="1861.8" stroke="#333333" stroke-width="1.1"/>
<line x1="624.02" y1="1858" x2="624.02" y2="1861.8" stroke="#333333" stroke-width="1.1"/>
<line x1="639.2" y1="1858" x2="639.2" y2="1861.8" stroke="#333333" stroke-width="1.1"/>
<line x1="654.39" y1="1858" x2="654.39" y2="1861.8" stroke="#333333" stroke-width="1.1"/>
<text transform="translate(431.11 1870) rotate(-45)" text-anchor="end" font-size="9.35" fill="#4d4d4d">20-24 years</text>
<text transform="translate(446.3 1870) rotate(-45)" text-anchor="end" font-size="9.35" fill="#4d4d4d">25-29 years</text>
<text transform="translate(461.48 1870) rotate(-45)" text-anchor="end" font-size="9.35" fill="#4d4d4d">30-34 years</text>
<text transform="translate(476.67 1870) rotate(-45)" text-anchor="end" font-size="9.35" fill="#4d4d4d">35-39 years</text>
<text transform="translate(491.85 1870) rotate(-45)" text-anchor="end" font-size="9.35" fill="#4d4d4d">40-44 years</text>
<text transform="translate(507.04 1870) rotate(-45)" text-anchor="end" font-size="9.35" fill="#4d4d4d">45-49 years</text>
<text transform="translate(522.22 1870) rotate(-45)" text-anchor="end" font-size="9.35" fill="#4d4d4d">50-54 years</text>
<text transform="translate(537.41 1870) rotate(-45)" text-anchor="end" font-size="9.35" fill="#4d4d4d">55-59 years</text>
<text transform="translate(552.59 1870) rotate(-45)" text-anchor="end" font-size="9.35" fill="#4d4d4d">60-64 years</text>
<text transform="translate(567.78 1870) rotate(-45)" text-anchor="end" font-size="9.35" fill="#4d4d4d">65-69 years</text>
<text transform="translate(582.96 1870) rotate(-45)" text-anchor="end" font-size="9.35" fill="#4d4d4d">70-74 years</text>
<text transform="translate(598.15 1870) rotate(-45)" text-anchor="end" font-size="9.35" fill="#4d4d4d">75-79 years</text>
<text transform="translate(613.33 1870) rotate(-45)" text-anchor="end" font-size="9.35" fill="#4d4d4d">80-84 years</text>
<text transform="translate(628.52 1870) rotate(-45)" text-anchor="end" font-size="9.35" fill="#4d4d4d">85-89 years</text>
<text transform="translate(643.7 1870) rotate(-45)" text-anchor="end" font-size="9.35" fill="#4d4d4d">90-94 years</text>
<text transform="translate(658.89 1870) rotate(-45)" text-anchor="end" font-size="9.35" fill="#4d4d4d">95+ years</text>
<text x="540" y="1923.63" text-anchor="middle" font-size="13.5" fill="#1a1a1a">Age</text>
<text transform="translate(369 1687) rotate(-90)" y="4.83" text-anchor="middle" font-size="13.5" fill="#1a1a1a">Number of cases</text>
<text x="47.1" y="1443" font-size="26.5" font-weight="bold" font-family="Liberation Serif, serif" fill="#111">E</text>
<path d="M948.92 1674.4V1621.79H951.55V1674.4ZM955.03 1674.4V1620.29H957.66V1674.4ZM961.13 1674.4V1618.78H963.76V1674.4ZM967.24 1674.4V1617.28H969.87V1674.4ZM973.34 1674.4V1615.77H975.97V1674.4ZM979.45 1674.4V1614.27H982.08V1674.4ZM985.55 1674.4V1612.63H988.18V1674.4ZM991.66 1674.4V1610.98H994.29V1674.4ZM997.76 1674.4V1609.34H1000.39V1674.4ZM1003.87 1674.4V1607.7H1006.5V1674.4ZM1009.97 1674.4V1606.06H1012.6V1674.4ZM1016.08 1674.4V1604.83H1018.71V1674.4ZM1022.18 1674.4V1603.6H1024.81V1674.4ZM1028.29 1674.4V1602.36H1030.91V1674.4ZM1034.39 1674.4V1601.13H1037.02V1674.4ZM1040.5 1674.4V1599.9H1043.12V1674.4ZM1046.6 1674.4V1598.26H1049.23V1674.4ZM1052.71 1674.4V1596.62H1055.34V1674.4ZM1058.81 1674.4V1594.98H1061.44V1674.4ZM1064.92 1674.4V1593.34H1067.55V1674.4ZM1071.02 1674.4V1591.69H1073.65V1674.4ZM1077.13 1674.4V1590.6H1079.75V1674.4ZM1083.23 1674.4V1589.5H1085.86V1674.4ZM1089.34 1674.4V1588.41H1091.96V1674.4ZM1095.44 1674.4V1587.32H1098.07V1674.4ZM1101.55 1674.4V1586.22H1104.17V1674.4ZM1107.65 1674.4V1583.94H1110.28V1674.4ZM1113.76 1674.4V1581.66H1116.38V1674.4ZM1119.86 1674.4V1579.38H1122.49V1674.4ZM1125.97 1674.4V1578.36H1128.6V1674.4ZM1132.07 1674.4V1577.33H1134.7V1674.4ZM1138.18 1674.4V1574.59H1140.81V1674.4ZM1144.28 1674.4V1571.17H1146.91V1674.4ZM1150.39 1674.4V1568.44H1153.01V1674.4ZM1156.49 1674.4V1565.7H1159.12V1674.4ZM1162.6 1674.4V1562.62H1165.22V1674.4ZM1168.7 1674.4V1559.54H1171.33V1674.4ZM1174.81 1674.4V1556.47H1177.43V1674.4ZM1180.91 1674.4V1553.39H1183.54V1674.4ZM1187.02 1674.4V1550.99H1189.64V1674.4ZM1193.12 1674.4V1548.6H1195.75V1674.4ZM1199.23 1674.4V1545.86H1201.86V1674.4ZM1205.33 1674.4V1543.13H1207.96V1674.4ZM1211.44 1674.4V1540.39H1214.07V1674.4ZM1217.54 1674.4V1537.65H1220.17V1674.4ZM1223.65 1674.4V1534.92H1226.28V1674.4ZM1229.75 1674.4V1532.18H1232.38V1674.4ZM1235.86 1674.4V1529.45H1238.48V1674.4ZM1241.96 1674.4V1526.71H1244.59V1674.4ZM1248.07 1674.4V1523.63H1250.69V1674.4ZM1254.17 1674.4V1520.55H1256.8V1674.4ZM1260.28 1674.4V1517.48H1262.9V1674.4ZM1266.38 1674.4V1514.4H1269.01V1674.4ZM1272.49 1674.4V1510.98H1275.12V1674.4ZM1278.59 1674.4V1507.56H1281.22V1674.4ZM1284.7 1674.4V1504.48H1287.33V1674.4ZM1290.8 1674.4V1501.4H1293.43V1674.4Z" fill="#ef711c"/>
<path d="M951.65 1674.4V1610.85H954.28V1674.4ZM957.76 1674.4V1609.07H960.38V1674.4ZM963.86 1674.4V1607.43H966.49V1674.4ZM969.97 1674.4V1605.37H972.59V1674.4ZM976.07 1674.4V1603.32H978.7V1674.4ZM982.18 1674.4V1600.86H984.8V1674.4ZM988.28 1674.4V1598.94H990.91V1674.4ZM994.39 1674.4V1596.76H997.01V1674.4ZM1000.49 1674.4V1594.16H1003.12V1674.4ZM1006.6 1674.4V1591.42H1009.22V1674.4ZM1012.7 1674.4V1588.27H1015.33V1674.4ZM1018.81 1674.4V1585.81H1021.43V1674.4ZM1024.91 1674.4V1582.8H1027.54V1674.4ZM1031.01 1674.4V1580.07H1033.64V1674.4ZM1037.12 1674.4V1577.33H1039.75V1674.4ZM1043.22 1674.4V1575H1045.85V1674.4ZM1049.33 1674.4V1572.81H1051.96V1674.4ZM1055.43 1674.4V1570.49H1058.06V1674.4ZM1061.54 1674.4V1568.44H1064.17V1674.4ZM1067.64 1674.4V1566.38H1070.27V1674.4ZM1073.75 1674.4V1564.33H1076.38V1674.4ZM1079.85 1674.4V1561.6H1082.48V1674.4ZM1085.96 1674.4V1560.23H1088.59V1674.4ZM1092.06 1674.4V1558.86H1094.69V1674.4ZM1098.17 1674.4V1557.08H1100.8V1674.4ZM1104.27 1674.4V1555.03H1106.9V1674.4ZM1110.38 1674.4V1552.7H1113.01V1674.4ZM1116.48 1674.4V1550.93H1119.11V1674.4ZM1122.59 1674.4V1549.28H1125.22V1674.4ZM1128.69 1674.4V1546.14H1131.32V1674.4ZM1134.8 1674.4V1545.18H1137.43V1674.4ZM1140.9 1674.4V1541.76H1143.53V1674.4ZM1147.01 1674.4V1535.6H1149.64V1674.4ZM1153.11 1674.4V1532.18H1155.74V1674.4ZM1159.22 1674.4V1528.08H1161.85V1674.4ZM1165.32 1674.4V1524.66H1167.95V1674.4ZM1171.43 1674.4V1520.83H1174.06V1674.4ZM1177.53 1674.4V1516.86H1180.16V1674.4ZM1183.64 1674.4V1513.03H1186.27V1674.4ZM1189.74 1674.4V1508.93H1192.37V1674.4ZM1195.85 1674.4V1505.23H1198.48V1674.4ZM1201.95 1674.4V1501.4H1204.58V1674.4ZM1208.06 1674.4V1497.3H1210.69V1674.4ZM1214.16 1674.4V1493.47H1216.79V1674.4ZM1220.27 1674.4V1489.77H1222.9V1674.4ZM1226.38 1674.4V1485.67H1229V1674.4ZM1232.48 1674.4V1481.56H1235.11V1674.4ZM1238.58 1674.4V1477.46H1241.21V1674.4ZM1244.69 1674.4V1473.77H1247.32V1674.4ZM1250.79 1674.4V1469.52H1253.42V1674.4ZM1256.9 1674.4V1465.56H1259.53V1674.4ZM1263 1674.4V1461.32H1265.63V1674.4ZM1269.11 1674.4V1457.21H1271.74V1674.4ZM1275.21 1674.4V1453.24H1277.84V1674.4ZM1281.32 1674.4V1449H1283.95V1674.4ZM1287.42 1674.4V1445.04H1290.05V1674.4Z" fill="#c4211d"/>
<polyline points="951.2,1580.75 954.25,1580.13 957.31,1579.51 960.36,1578.89 963.41,1578.26 966.46,1577.64 969.52,1577.02 972.57,1576.4 975.62,1575.8 978.67,1575.25 981.73,1574.7 984.78,1574.15 987.83,1573.6 990.88,1572.95 993.94,1572.28 996.99,1571.61 1000.04,1570.94 1003.09,1570.29 1006.15,1569.68 1009.2,1569.07 1012.25,1568.46 1015.3,1567.85 1018.36,1567.31 1021.41,1566.79 1024.46,1566.27 1027.51,1565.76 1030.57,1565.26 1033.62,1564.8 1036.67,1564.34 1039.72,1563.89 1042.78,1563.43 1045.83,1563.24 1048.88,1563.09 1051.93,1562.93 1054.99,1562.78 1058.04,1562.59 1061.09,1562.35 1064.14,1562.1 1067.2,1561.86 1070.25,1561.62 1073.3,1561.4 1076.35,1561.19 1079.4,1560.97 1082.46,1560.76 1085.51,1560.56 1088.56,1560.37 1091.62,1560.19 1094.67,1560.01 1097.72,1559.83 1100.77,1559.76 1103.83,1559.7 1106.88,1559.64 1109.93,1559.58 1112.98,1559.51 1116.04,1559.45 1119.09,1559.39 1122.14,1559.33 1125.19,1559.27 1128.25,1558.63 1131.3,1557.99 1134.35,1557.24 1137.4,1556.08 1140.46,1554.92 1143.51,1553.76 1146.56,1552.6 1149.61,1551.46 1152.66,1550.33 1155.72,1549.2 1158.77,1548.07 1161.82,1546.94 1164.88,1545.81 1167.93,1544.68 1170.98,1543.55 1174.03,1542.42 1177.09,1541.37 1180.14,1540.33 1183.19,1539.29 1186.24,1538.25 1189.3,1537.21 1192.35,1536.18 1195.4,1535.14 1198.45,1534.1 1201.51,1533.06 1204.56,1532.06 1207.61,1531.07 1210.66,1530.08 1213.72,1529.09 1216.77,1528.09 1219.82,1527.1 1222.87,1526.11 1225.93,1525.12 1228.98,1524.13 1232.03,1523.07 1235.08,1522 1238.13,1520.93 1241.19,1519.86 1244.24,1518.8 1247.29,1517.73 1250.35,1516.66 1253.4,1515.59 1256.45,1514.52 1259.5,1513.59 1262.56,1512.67 1265.61,1511.76 1268.66,1510.84 1271.71,1509.81 1274.77,1508.61 1277.82,1507.41 1280.87,1506.21 1283.92,1505.01 1286.98,1503.8 1290.03,1502.6 1293.08,1501.4" fill="none" stroke="#f08426" stroke-width="1.6" stroke-linejoin="round"/>
<polyline points="951.2,1564.33 954.25,1563.44 957.31,1562.56 960.36,1561.67 963.41,1560.78 966.46,1559.89 969.52,1559.01 972.57,1558.12 975.62,1557.22 978.67,1556.31 981.73,1555.39 984.78,1554.48 987.83,1553.56 990.88,1552.52 993.94,1551.45 996.99,1550.38 1000.04,1549.31 1003.09,1548.17 1006.15,1546.85 1009.2,1545.54 1012.25,1544.23 1015.3,1542.92 1018.36,1541.76 1021.41,1540.63 1024.46,1539.5 1027.51,1538.37 1030.57,1537.32 1033.62,1536.4 1036.67,1535.49 1039.72,1534.57 1042.78,1533.66 1045.83,1532.96 1048.88,1532.28 1051.93,1531.61 1054.99,1530.94 1058.04,1530.34 1061.09,1529.86 1064.14,1529.37 1067.2,1528.88 1070.25,1528.39 1073.3,1528.01 1076.35,1527.65 1079.4,1527.28 1082.46,1526.92 1085.51,1526.58 1088.56,1526.27 1091.62,1525.97 1094.67,1525.66 1097.72,1525.36 1100.77,1524.96 1103.83,1524.57 1106.88,1524.17 1109.93,1523.77 1112.98,1523.28 1116.04,1522.68 1119.09,1522.08 1122.14,1521.48 1125.19,1520.88 1128.25,1519.58 1131.3,1517.47 1134.35,1515.36 1137.4,1514.02 1140.46,1512.68 1143.51,1511.34 1146.56,1510 1149.61,1508.67 1152.66,1507.33 1155.72,1505.99 1158.77,1504.65 1161.82,1503.31 1164.88,1501.98 1167.93,1500.64 1170.98,1499.3 1174.03,1497.96 1177.09,1496.62 1180.14,1495.29 1183.19,1493.95 1186.24,1492.61 1189.3,1491.27 1192.35,1489.94 1195.4,1488.6 1198.45,1487.26 1201.51,1485.92 1204.56,1484.47 1207.61,1483 1210.66,1481.52 1213.72,1480.05 1216.77,1478.57 1219.82,1477.1 1222.87,1475.62 1225.93,1474.14 1228.98,1472.67 1232.03,1471.19 1235.08,1469.72 1238.13,1468.24 1241.19,1466.77 1244.24,1465.26 1247.29,1463.7 1250.35,1462.13 1253.4,1460.57 1256.45,1459.01 1259.5,1457.44 1262.56,1455.88 1265.61,1454.32 1268.66,1452.75 1271.71,1451.19 1274.77,1449.63 1277.82,1448.06 1280.87,1446.5 1283.92,1444.94 1286.98,1443.37 1290.03,1441.81 1293.08,1440.25 1294.78,1440.55 1294.78,1674.4" fill="none" stroke="#c2303f" stroke-width="1.6" stroke-linejoin="round"/>
<line x1="931.9" y1="1428.5" x2="931.9" y2="1686.5" stroke="#333333" stroke-width="1.55"/>
<line x1="931.2" y1="1685.8" x2="1314" y2="1685.8" stroke="#333333" stroke-width="1.55"/>
<line x1="1313.3" y1="1428.5" x2="1313.3" y2="1686.5" stroke="#333333" stroke-width="1.55"/>
<line x1="928.4" y1="1674.4" x2="931.9" y2="1674.4" stroke="#333333" stroke-width="1.2"/>
<text x="925" y="1678.34" text-anchor="end" font-size="11" fill="#262626">0</text>
<line x1="928.4" y1="1625.62" x2="931.9" y2="1625.62" stroke="#333333" stroke-width="1.2"/>
<text x="925" y="1629.56" text-anchor="end" font-size="11" fill="#262626">2500</text>
<line x1="928.4" y1="1576.84" x2="931.9" y2="1576.84" stroke="#333333" stroke-width="1.2"/>
<text x="925" y="1580.78" text-anchor="end" font-size="11" fill="#262626">5000</text>
<line x1="928.4" y1="1528.06" x2="931.9" y2="1528.06" stroke="#333333" stroke-width="1.2"/>
<text x="925" y="1532" text-anchor="end" font-size="11" fill="#262626">7500</text>
<line x1="928.4" y1="1479.28" x2="931.9" y2="1479.28" stroke="#333333" stroke-width="1.2"/>
<text x="925" y="1483.22" text-anchor="end" font-size="11" fill="#262626">10000</text>
<line x1="928.4" y1="1430.5" x2="931.9" y2="1430.5" stroke="#333333" stroke-width="1.2"/>
<text x="925" y="1434.44" text-anchor="end" font-size="11" fill="#262626">12500</text>
<line x1="1313.3" y1="1674.4" x2="1316.8" y2="1674.4" stroke="#333333" stroke-width="1.2"/>
<text x="1319.3" y="1678.34" font-size="11" fill="#262626">0.0</text>
<line x1="1313.3" y1="1583.4" x2="1316.8" y2="1583.4" stroke="#333333" stroke-width="1.2"/>
<text x="1319.3" y="1587.34" font-size="11" fill="#262626">0.1</text>
<line x1="1313.3" y1="1492.5" x2="1316.8" y2="1492.5" stroke="#333333" stroke-width="1.2"/>
<text x="1319.3" y="1496.44" font-size="11" fill="#262626">0.2</text>
<line x1="951.2" y1="1685.8" x2="951.2" y2="1689.4" stroke="#333333" stroke-width="1.2"/>
<text x="951.2" y="1701.54" text-anchor="middle" font-size="11" fill="#262626">1990</text>
<line x1="1012.25" y1="1685.8" x2="1012.25" y2="1689.4" stroke="#333333" stroke-width="1.2"/>
<text x="1012.25" y="1701.54" text-anchor="middle" font-size="11" fill="#262626">2000</text>
<line x1="1073.3" y1="1685.8" x2="1073.3" y2="1689.4" stroke="#333333" stroke-width="1.2"/>
<text x="1073.3" y="1701.54" text-anchor="middle" font-size="11" fill="#262626">2010</text>
<line x1="1134.35" y1="1685.8" x2="1134.35" y2="1689.4" stroke="#333333" stroke-width="1.2"/>
<text x="1134.35" y="1701.54" text-anchor="middle" font-size="11" fill="#262626">2020</text>
<line x1="1195.4" y1="1685.8" x2="1195.4" y2="1689.4" stroke="#333333" stroke-width="1.2"/>
<text x="1195.4" y="1701.54" text-anchor="middle" font-size="11" fill="#262626">2030</text>
<line x1="1256.45" y1="1685.8" x2="1256.45" y2="1689.4" stroke="#333333" stroke-width="1.2"/>
<text x="1256.45" y="1701.54" text-anchor="middle" font-size="11" fill="#262626">2040</text>
<text x="1121.8" y="1718.27" text-anchor="middle" font-size="13.6" fill="#1a1a1a">Year</text>
<text transform="translate(882.3 1558) rotate(-90)" y="5.08" text-anchor="middle" font-size="14.2" fill="#1a1a1a">Number of deaths cases</text>
<clipPath id="cf1"><rect x="1325" y="1419.7" width="40" height="298.3"/></clipPath>
<g clip-path="url(#cf1)">
<text transform="translate(1343.6 1557.7) rotate(90)" y="5.12" text-anchor="middle" font-size="14.3" fill="#1a1a1a">Age-standardized deaths rate (per 100000 populations)</text>
</g>
<rect x="1375.5" y="1537.5" width="21" height="22" fill="#ef711c"/>
<rect x="1375.5" y="1562.4" width="21" height="22" fill="#ba1c23"/>
<text x="1405.3" y="1553.06" font-size="11.9" fill="#333">Female</text>
<text x="1405.3" y="1578.06" font-size="11.9" fill="#333">Male</text>
<path d="M949.66 1983.8V1919.48H952.35V1983.8ZM955.91 1983.8V1917.97H958.6V1983.8ZM962.15 1983.8V1916.47H964.84V1983.8ZM968.4 1983.8V1914.96H971.09V1983.8ZM974.64 1983.8V1913.46H977.33V1983.8ZM980.89 1983.8V1911.95H983.58V1983.8ZM987.13 1983.8V1909.9H989.82V1983.8ZM993.38 1983.8V1907.85H996.07V1983.8ZM999.62 1983.8V1905.8H1002.31V1983.8ZM1005.87 1983.8V1903.75H1008.56V1983.8ZM1012.11 1983.8V1901.69H1014.8V1983.8ZM1018.36 1983.8V1900.05H1021.05V1983.8ZM1024.6 1983.8V1898.41H1027.29V1983.8ZM1030.85 1983.8V1896.77H1033.53V1983.8ZM1037.09 1983.8V1895.13H1039.78V1983.8ZM1043.34 1983.8V1893.49H1046.02V1983.8ZM1049.58 1983.8V1892.25H1052.27V1983.8ZM1055.83 1983.8V1891.02H1058.51V1983.8ZM1062.07 1983.8V1889.79H1064.76V1983.8ZM1068.32 1983.8V1888.56H1071V1983.8ZM1074.56 1983.8V1887.33H1077.25V1983.8ZM1080.81 1983.8V1886.23H1083.49V1983.8ZM1087.05 1983.8V1885.14H1089.74V1983.8ZM1093.3 1983.8V1884.05H1095.98V1983.8ZM1099.54 1983.8V1882.95H1102.23V1983.8ZM1105.79 1983.8V1881.86H1108.47V1983.8ZM1112.03 1983.8V1880.72H1114.72V1983.8ZM1118.28 1983.8V1879.58H1120.96V1983.8ZM1124.52 1983.8V1878.44H1127.21V1983.8ZM1130.77 1983.8V1877.07H1133.45V1983.8ZM1137.01 1983.8V1873.65H1139.7V1983.8ZM1143.26 1983.8V1870.91H1145.94V1983.8ZM1149.5 1983.8V1865.44H1152.19V1983.8ZM1155.75 1983.8V1862.02H1158.43V1983.8ZM1161.99 1983.8V1858.6H1164.68V1983.8ZM1168.24 1983.8V1855.18H1170.92V1983.8ZM1174.48 1983.8V1851.76H1177.17V1983.8ZM1180.73 1983.8V1848H1183.41V1983.8ZM1186.97 1983.8V1844.23H1189.66V1983.8ZM1193.22 1983.8V1840.81H1195.9V1983.8ZM1199.46 1983.8V1837.39H1202.15V1983.8ZM1205.71 1983.8V1833.63H1208.39V1983.8ZM1211.95 1983.8V1829.87H1214.64V1983.8ZM1218.2 1983.8V1825.77H1220.88V1983.8ZM1224.44 1983.8V1821.66H1227.13V1983.8ZM1230.69 1983.8V1817.9H1233.38V1983.8ZM1236.93 1983.8V1814.14H1239.62V1983.8ZM1243.18 1983.8V1810.03H1245.86V1983.8ZM1249.42 1983.8V1805.93H1252.11V1983.8ZM1255.67 1983.8V1802.17H1258.36V1983.8ZM1261.91 1983.8V1798.4H1264.6V1983.8ZM1268.16 1983.8V1793.96H1270.84V1983.8ZM1274.4 1983.8V1789.51H1277.09V1983.8ZM1280.65 1983.8V1784.04H1283.34V1983.8ZM1286.89 1983.8V1778.57H1289.58V1983.8ZM1293.14 1983.8V1774.12H1295.82V1983.8ZM1299.38 1983.8V1769.67H1302.07V1983.8Z" fill="#ef711c"/>
<path d="M952.45 1983.8V1912.64H955.14V1983.8ZM958.7 1983.8V1910.31H961.38V1983.8ZM964.94 1983.8V1908.12H967.63V1983.8ZM971.19 1983.8V1906.07H973.87V1983.8ZM977.43 1983.8V1904.02H980.12V1983.8ZM983.68 1983.8V1901.97H986.36V1983.8ZM989.92 1983.8V1900.33H992.61V1983.8ZM996.17 1983.8V1898.96H998.85V1983.8ZM1002.41 1983.8V1896.63H1005.1V1983.8ZM1008.66 1983.8V1894.17H1011.34V1983.8ZM1014.9 1983.8V1890.75H1017.59V1983.8ZM1021.15 1983.8V1888.01H1023.83V1983.8ZM1027.39 1983.8V1885.55H1030.08V1983.8ZM1033.63 1983.8V1882.81H1036.32V1983.8ZM1039.88 1983.8V1880.49H1042.57V1983.8ZM1046.12 1983.8V1878.03H1048.81V1983.8ZM1052.37 1983.8V1875.7H1055.06V1983.8ZM1058.61 1983.8V1873.65H1061.3V1983.8ZM1064.86 1983.8V1871.6H1067.55V1983.8ZM1071.1 1983.8V1869.82H1073.79V1983.8ZM1077.35 1983.8V1868.86H1080.04V1983.8ZM1083.59 1983.8V1866.53H1086.28V1983.8ZM1089.84 1983.8V1865.17H1092.53V1983.8ZM1096.08 1983.8V1863.8H1098.77V1983.8ZM1102.33 1983.8V1862.29H1105.02V1983.8ZM1108.57 1983.8V1859.97H1111.26V1983.8ZM1114.82 1983.8V1857.92H1117.51V1983.8ZM1121.06 1983.8V1856.55H1123.75V1983.8ZM1127.31 1983.8V1854.77H1130V1983.8ZM1133.55 1983.8V1853.13H1136.24V1983.8ZM1139.8 1983.8V1849.71H1142.49V1983.8ZM1146.04 1983.8V1847.93H1148.73V1983.8ZM1152.29 1983.8V1841.09H1154.98V1983.8ZM1158.53 1983.8V1837.39H1161.22V1983.8ZM1164.78 1983.8V1833.97H1167.47V1983.8ZM1171.02 1983.8V1830.14H1173.71V1983.8ZM1177.27 1983.8V1826.18H1179.96V1983.8ZM1183.51 1983.8V1822.76H1186.2V1983.8ZM1189.76 1983.8V1818.93H1192.45V1983.8ZM1196 1983.8V1815.5H1198.69V1983.8ZM1202.25 1983.8V1811.67H1204.94V1983.8ZM1208.49 1983.8V1807.57H1211.18V1983.8ZM1214.74 1983.8V1803.88H1217.43V1983.8ZM1220.98 1983.8V1800.05H1223.67V1983.8ZM1227.23 1983.8V1796.08H1229.92V1983.8ZM1233.47 1983.8V1792.25H1236.16V1983.8ZM1239.72 1983.8V1788.42H1242.41V1983.8ZM1245.96 1983.8V1784.31H1248.65V1983.8ZM1252.21 1983.8V1780.62H1254.9V1983.8ZM1258.45 1983.8V1776.79H1261.14V1983.8ZM1264.7 1983.8V1772.82H1267.39V1983.8ZM1270.94 1983.8V1769.26H1273.63V1983.8ZM1277.19 1983.8V1765.3H1279.88V1983.8ZM1283.43 1983.8V1761.19H1286.12V1983.8ZM1289.68 1983.8V1757.36H1292.37V1983.8ZM1295.92 1983.8V1753.67H1298.61V1983.8Z" fill="#c4211d"/>
<polyline points="952,1869.82 955.12,1870.08 958.25,1869.91 961.37,1869.14 964.49,1868.37 967.61,1867.6 970.74,1866.83 973.86,1866.06 976.98,1865.6 980.1,1865.26 983.23,1864.91 986.35,1864.57 989.47,1864.16 992.59,1863.63 995.72,1863.1 998.84,1862.57 1001.96,1862.04 1005.08,1861.16 1008.21,1860.26 1011.33,1859.36 1014.45,1858.64 1017.57,1858.12 1020.7,1857.6 1023.82,1857.07 1026.94,1856.55 1030.06,1856.08 1033.18,1855.76 1036.31,1855.45 1039.43,1855.14 1042.55,1854.83 1045.67,1854.51 1048.8,1854.5 1051.92,1854.5 1055.04,1854.5 1058.16,1854.5 1061.29,1854.5 1064.41,1854.5 1067.53,1854.5 1070.65,1854.5 1073.78,1854.5 1076.9,1854.5 1080.02,1854.45 1083.14,1854.4 1086.27,1854.35 1089.39,1854.29 1092.51,1854.24 1095.63,1854.19 1098.76,1854.14 1101.88,1854.09 1105,1853.68 1108.12,1853.26 1111.25,1852.85 1114.37,1852.45 1117.49,1852.72 1120.62,1852.99 1123.74,1853.27 1126.86,1853.54 1129.98,1853.81 1133.11,1853.04 1136.23,1850.6 1139.35,1848.16 1142.47,1846.81 1145.6,1846.1 1148.72,1844.68 1151.84,1843.15 1154.96,1841.62 1158.09,1840.09 1161.21,1838.55 1164.33,1837.02 1167.45,1835.49 1170.58,1833.96 1173.7,1832.43 1176.82,1830.9 1179.94,1829.37 1183.07,1827.84 1186.19,1826.31 1189.31,1824.78 1192.43,1823.25 1195.56,1821.72 1198.68,1820.19 1201.8,1818.66 1204.92,1817.13 1208.05,1815.59 1211.17,1814.06 1214.29,1812.53 1217.41,1811 1220.54,1809.47 1223.66,1807.94 1226.78,1806.41 1229.9,1804.88 1233.03,1803.35 1236.15,1801.82 1239.27,1800.29 1242.39,1798.76 1245.51,1797.23 1248.64,1795.7 1251.76,1794.17 1254.88,1792.63 1258.01,1791.1 1261.13,1789.57 1264.25,1788.04 1267.37,1786.51 1270.49,1784.98 1273.62,1783.45 1276.74,1781.92 1279.86,1780.39 1282.99,1778.86 1286.11,1777.33 1289.23,1775.8 1292.35,1774.27 1295.47,1772.74 1298.6,1771.2 1301.72,1769.67" fill="none" stroke="#f08426" stroke-width="1.6" stroke-linejoin="round"/>
<polyline points="952,1859.28 955.12,1858.49 958.25,1857.7 961.37,1856.91 964.49,1856.13 967.61,1855.34 970.74,1854.55 973.86,1853.76 976.98,1853.19 980.1,1852.71 983.23,1852.23 986.35,1851.76 989.47,1851.28 992.59,1850.8 995.72,1850.28 998.84,1849.53 1001.96,1848.78 1005.08,1847.46 1008.21,1846.12 1011.33,1844.77 1014.45,1843.43 1017.57,1842.21 1020.7,1841.08 1023.82,1839.96 1026.94,1838.83 1030.06,1837.7 1033.18,1836.57 1036.31,1835.79 1039.43,1835.06 1042.55,1834.34 1045.67,1833.61 1048.8,1833.2 1051.92,1832.81 1055.04,1832.42 1058.16,1832.03 1061.29,1831.64 1064.41,1831.25 1067.53,1830.85 1070.65,1830.73 1073.78,1830.63 1076.9,1830.52 1080.02,1830.42 1083.14,1830.31 1086.27,1830.15 1089.39,1829.96 1092.51,1829.77 1095.63,1829.57 1098.76,1829.38 1101.88,1829.19 1105,1828.78 1108.12,1828.36 1111.25,1827.95 1114.37,1827.54 1117.49,1827.43 1120.62,1827.31 1123.74,1827.2 1126.86,1827.08 1129.98,1826.97 1133.11,1826.75 1136.23,1823.57 1139.35,1820.39 1142.47,1818.86 1145.6,1818.31 1148.72,1817.03 1151.84,1815.65 1154.96,1814.26 1158.09,1812.88 1161.21,1811.49 1164.33,1810.11 1167.45,1808.72 1170.58,1807.34 1173.7,1805.95 1176.82,1804.56 1179.94,1803.18 1183.07,1801.79 1186.19,1800.41 1189.31,1799.02 1192.43,1797.64 1195.56,1796.25 1198.68,1794.87 1201.8,1793.48 1204.92,1792.1 1208.05,1790.71 1211.17,1789.33 1214.29,1787.94 1217.41,1786.56 1220.54,1785.17 1223.66,1783.79 1226.78,1782.4 1229.9,1781.01 1233.03,1779.63 1236.15,1778.24 1239.27,1776.86 1242.39,1775.47 1245.51,1774.09 1248.64,1772.7 1251.76,1771.32 1254.88,1769.93 1258.01,1768.55 1261.13,1767.16 1264.25,1765.78 1267.37,1764.39 1270.49,1763.01 1273.62,1761.62 1276.74,1760.24 1279.86,1758.85 1282.99,1757.46 1286.11,1756.08 1289.23,1754.69 1292.35,1753.31 1295.47,1751.92 1298.6,1750.54 1301.72,1749.15 1303.42,1749.45 1303.42,1983.8" fill="none" stroke="#c2303f" stroke-width="1.6" stroke-linejoin="round"/>
<line x1="931.9" y1="1737.5" x2="931.9" y2="1995.7" stroke="#333333" stroke-width="1.55"/>
<line x1="931.2" y1="1995" x2="1323.3" y2="1995" stroke="#333333" stroke-width="1.55"/>
<line x1="1322.6" y1="1737.5" x2="1322.6" y2="1995.7" stroke="#333333" stroke-width="1.55"/>
<line x1="928.4" y1="1983.8" x2="931.9" y2="1983.8" stroke="#333333" stroke-width="1.2"/>
<text x="925" y="1987.74" text-anchor="end" font-size="11" fill="#262626">0e+00</text>
<line x1="928.4" y1="1903.2" x2="931.9" y2="1903.2" stroke="#333333" stroke-width="1.2"/>
<text x="925" y="1907.14" text-anchor="end" font-size="11" fill="#262626">1e+05</text>
<line x1="928.4" y1="1822.6" x2="931.9" y2="1822.6" stroke="#333333" stroke-width="1.2"/>
<text x="925" y="1826.54" text-anchor="end" font-size="11" fill="#262626">2e+05</text>
<line x1="928.4" y1="1742" x2="931.9" y2="1742" stroke="#333333" stroke-width="1.2"/>
<text x="925" y="1745.94" text-anchor="end" font-size="11" fill="#262626">3e+05</text>
<line x1="1322.6" y1="1983.8" x2="1326.1" y2="1983.8" stroke="#333333" stroke-width="1.2"/>
<text x="1328.6" y="1987.74" font-size="11" fill="#262626">0</text>
<line x1="1322.6" y1="1908.8" x2="1326.1" y2="1908.8" stroke="#333333" stroke-width="1.2"/>
<text x="1328.6" y="1912.74" font-size="11" fill="#262626">2</text>
<line x1="1322.6" y1="1833.8" x2="1326.1" y2="1833.8" stroke="#333333" stroke-width="1.2"/>
<text x="1328.6" y="1837.74" font-size="11" fill="#262626">4</text>
<line x1="1322.6" y1="1758.8" x2="1326.1" y2="1758.8" stroke="#333333" stroke-width="1.2"/>
<text x="1328.6" y="1762.74" font-size="11" fill="#262626">6</text>
<line x1="952" y1="1995" x2="952" y2="1998.6" stroke="#333333" stroke-width="1.2"/>
<text x="952" y="2010.74" text-anchor="middle" font-size="11" fill="#262626">1990</text>
<line x1="1014.45" y1="1995" x2="1014.45" y2="1998.6" stroke="#333333" stroke-width="1.2"/>
<text x="1014.45" y="2010.74" text-anchor="middle" font-size="11" fill="#262626">2000</text>
<line x1="1076.9" y1="1995" x2="1076.9" y2="1998.6" stroke="#333333" stroke-width="1.2"/>
<text x="1076.9" y="2010.74" text-anchor="middle" font-size="11" fill="#262626">2010</text>
<line x1="1139.35" y1="1995" x2="1139.35" y2="1998.6" stroke="#333333" stroke-width="1.2"/>
<text x="1139.35" y="2010.74" text-anchor="middle" font-size="11" fill="#262626">2020</text>
<line x1="1201.8" y1="1995" x2="1201.8" y2="1998.6" stroke="#333333" stroke-width="1.2"/>
<text x="1201.8" y="2010.74" text-anchor="middle" font-size="11" fill="#262626">2030</text>
<line x1="1264.25" y1="1995" x2="1264.25" y2="1998.6" stroke="#333333" stroke-width="1.2"/>
<text x="1264.25" y="2010.74" text-anchor="middle" font-size="11" fill="#262626">2040</text>
<text x="1126.8" y="2027.47" text-anchor="middle" font-size="13.6" fill="#1a1a1a">Year</text>
<text transform="translate(882.2 1867) rotate(-90)" y="5.08" text-anchor="middle" font-size="14.2" fill="#1a1a1a">Number of DALYs cases</text>
<text transform="translate(1338.6 2037.6) rotate(90)" text-anchor="end" font-size="14.42" fill="#1a1a1a">Age-standardized DALYs rate (per 100000 populations</text>
<path d="M887.3 1737.5C888.6 1740 889.3 1742.6 889.2 1745.2C889.1 1748.6 887.4 1750 884 1750H879.2" fill="none" stroke="#111" stroke-width="2.3" stroke-linecap="round"/>
<text x="861.6" y="1443.2" font-size="26.5" font-weight="bold" font-family="Liberation Serif, serif" fill="#111">F</text>
</svg>
</body></html>
